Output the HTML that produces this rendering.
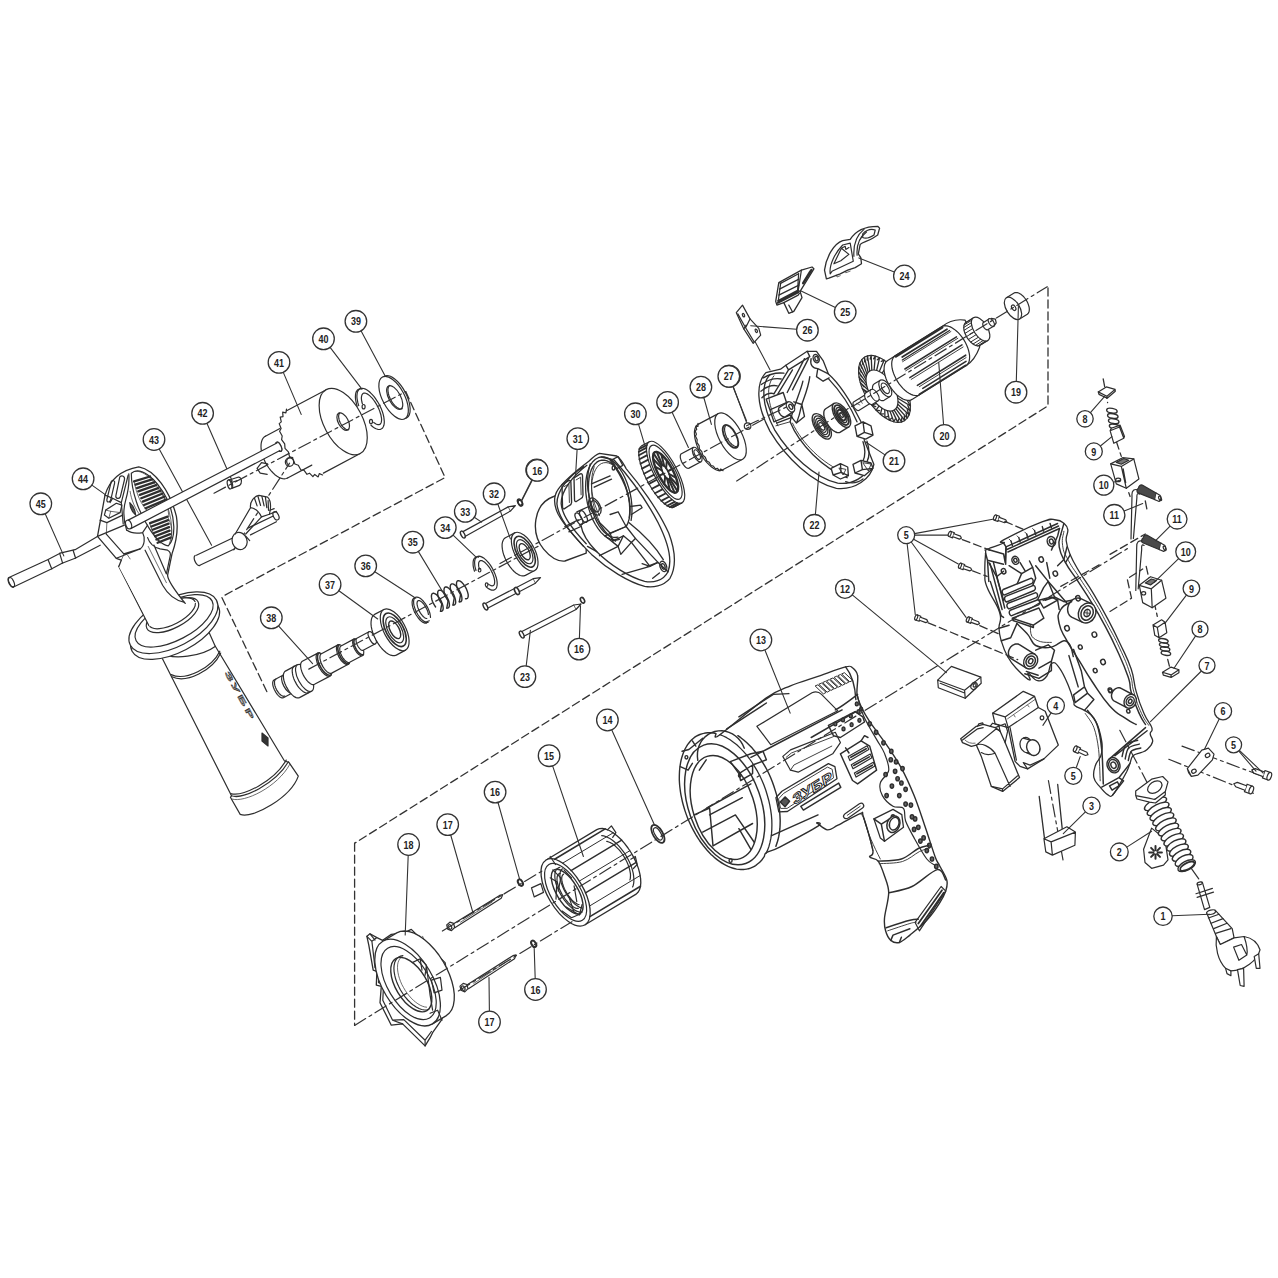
<!DOCTYPE html>
<html><head><meta charset="utf-8"><title>Exploded view</title>
<style>
html,body{margin:0;padding:0;background:#fff;}
body{width:1278px;height:1278px;overflow:hidden;}
svg{display:block;}
path,ellipse,circle,line,rect,polyline,polygon{fill:none;stroke:#2e2e2e;stroke-width:1.2;stroke-linecap:round;stroke-linejoin:round;}
.hv path,.hv ellipse{stroke-width:1.45;}
.hm path,.hm ellipse{stroke-width:1.35;}
.hv path.th,.hm path.th,.hv ellipse.th,.hm ellipse.th{stroke-width:0.9;}
.w{fill:#fff;}
.ld{stroke-width:1.1;stroke:#333;}
.ax{stroke-width:1.2;stroke-dasharray:13 4 3 4;stroke:#333;}
.ds{stroke-width:1.3;stroke-dasharray:8 4;stroke:#333;}
.lc{fill:#fff;stroke:#333;stroke-width:1.3;}
.lt{font-family:"Liberation Sans",sans-serif;font-weight:bold;font-size:11.5px;text-anchor:middle;fill:#222;stroke:none;}
.th{stroke-width:0.7;}
.bk{fill:#333;}
.g{fill:#999;}
</style></head><body>
<svg width="1278" height="1278" viewBox="0 0 1278 1278">
<path d="M 405.7 391.6 L 445.1 477.5 L 221.6 596.9" class="ds"/>
<ellipse cx="395.4" cy="397.1" rx="11.0" ry="23.7" transform="rotate(-28 395.4 397.1)" class="w"/>
<ellipse cx="393.6" cy="397.9" rx="11.0" ry="23.7" transform="rotate(-28 393.6 397.9)" class="w"/>
<ellipse cx="394.7" cy="397.5" rx="5.9" ry="13.1" transform="rotate(-28 394.7 397.5)"/>
<path d="M 402.2 408.7 L 401.5 408.9 L 400.6 409.0 L 399.7 408.8 L 398.8 408.5 L 397.7 407.9 L 396.7 407.2 L 395.6 406.3 L 394.6 405.3 L 393.6 404.1 L 392.6 402.8 L 391.6 401.3 L 390.8 399.8 L 390.0 398.3 L 389.4 396.7 L 388.8 395.2 L 388.4 393.7 L 388.1 392.2 L 388.0 390.8 L 387.9 389.5 L 388.1 388.4 L 388.3 387.4 L 388.7 386.6 L 389.2 385.9 L 389.8 385.4"/>
<path d="M 358.7 405.6 L 357.9 402.9 L 357.4 400.4 L 357.0 398.1 L 356.9 395.9 L 357.1 393.9 L 357.4 392.2 L 358.0 390.8 L 358.8 389.7 L 359.8 388.8 L 360.9 388.4 L 362.3 388.3 L 363.8 388.5 L 365.4 389.1 L 367.0 390.0 L 368.8 391.2 L 370.5 392.8 L 372.3 394.6 L 374.1 396.6 L 375.7 398.9 L 377.3 401.3 L 378.8 403.8 L 380.2 406.5 L 381.4 409.1 L 382.4 411.8 L 383.2 414.4 L 383.8 417.0 L 384.1 419.3 L 384.3 421.6 L 384.2 423.6 L 383.9 425.3 L 383.3 426.8 L 382.6 428.0 L 381.6 428.8 L 380.5 429.3 L 379.2 429.5 L 377.7 429.3 L 376.1 428.8 L 374.5 427.9 L 372.7 426.8 L 371.0 425.3"/>
<path d="M 362.4 403.8 L 361.9 402.0 L 361.6 400.3 L 361.4 398.8 L 361.4 397.4 L 361.6 396.1 L 361.9 395.1 L 362.3 394.3 L 362.9 393.6 L 363.6 393.2 L 364.5 393.1 L 365.4 393.2 L 366.4 393.5 L 367.5 394.1 L 368.7 394.9 L 369.9 395.9 L 371.1 397.1 L 372.4 398.4 L 373.6 400.0 L 374.8 401.6 L 375.9 403.4 L 377.0 405.3 L 378.0 407.2 L 378.9 409.1 L 379.7 411.1 L 380.3 413.0 L 380.9 414.8 L 381.2 416.6 L 381.5 418.2 L 381.6 419.7 L 381.5 421.0 L 381.3 422.2 L 380.9 423.1 L 380.4 423.9 L 379.7 424.4 L 379.0 424.6 L 378.1 424.7 L 377.1 424.4 L 376.0 424.0 L 374.9 423.3 L 373.7 422.5"/>
<path d="M 357.2 406.2 L 356.7 404.7 L 356.3 403.1 L 356.0 401.6 L 355.7 400.2 L 355.5 398.8 L 355.4 397.5 L 355.4 396.2 L 355.5 395.1 L 355.6 394.0 L 355.8 393.0 L 356.2 392.1 L 356.5 391.3 L 357.0 390.6 L 357.5 390.0 L 358.1 389.6 L 358.7 389.3 L 359.5 389.0 L 360.2 388.9 L 361.1 389.0 L 361.9 389.1"/>
<ellipse cx="363.6" cy="406.7" rx="1.5" ry="2.2" transform="rotate(0 363.6 406.7)"/>
<ellipse cx="371.0" cy="421.6" rx="1.5" ry="2.2" transform="rotate(0 371.0 421.6)"/>
<path d="M 326.3 389.7 L 286.6 410.8"/>
<path d="M 360.2 453.5 L 323.4 473.1"/>
<ellipse cx="343.2" cy="421.6" rx="19.3" ry="36.2" transform="rotate(-28 343.2 421.6)" class="w"/>
<ellipse cx="343.2" cy="421.6" rx="5.0" ry="9.6" transform="rotate(-28 343.2 421.6)"/>
<path d="M 348.7 429.7 L 348.0 429.8 L 347.4 429.7 L 346.7 429.5 L 345.9 429.2 L 345.2 428.8 L 344.5 428.2 L 343.7 427.6 L 343.0 426.9 L 342.3 426.1 L 341.7 425.2 L 341.1 424.3 L 340.5 423.3 L 340.0 422.3 L 339.6 421.3 L 339.3 420.3 L 339.0 419.2 L 338.8 418.2 L 338.7 417.3 L 338.6 416.4 L 338.7 415.5 L 338.8 414.8 L 339.1 414.1 L 339.4 413.5 L 339.7 413.0"/>
<path d="M 322.6 475.0 L 319.3 473.6 L 318.2 476.9 L 314.7 474.4 L 312.9 476.7 L 309.5 473.2 L 307.0 474.3 L 303.9 470.1 L 300.9 470.0 L 298.3 465.3 L 294.9 464.0 L 293.0 459.0 L 289.5 456.6 L 288.4 451.8 L 285.0 448.3 L 284.7 443.9 L 281.6 439.7 L 282.2 436.0 L 279.6 431.3 L 281.1 428.5 L 279.2 423.6 L 281.3 421.9 L 280.2 417.1 L 283.0 416.6 L 282.7 412.2 L 285.9 412.9 L 286.5 409.2"/>
<path d="M 287.6 478.0 L 286.1 478.5 L 284.4 478.8 L 282.6 478.6 L 280.7 478.1 L 278.7 477.2 L 276.7 475.9 L 274.6 474.4 L 272.7 472.5 L 270.7 470.4 L 268.9 468.0 L 267.2 465.5 L 265.6 462.9 L 264.3 460.1 L 263.1 457.2 L 262.2 454.4 L 261.5 451.6 L 261.1 448.9 L 261.0 446.4 L 261.1 444.0 L 261.5 441.9 L 262.1 440.0 L 262.9 438.4 L 264.1 437.1 L 265.4 436.2"/>
<path d="M 265.4 436.2 L 279.9 428.5"/>
<path d="M 287.6 478.0 L 311.8 465.1"/>
<ellipse cx="289.5" cy="462.1" rx="4.2" ry="4.2" transform="rotate(0 289.5 462.1)"/>
<path d="M 288.8 465.1 L 288.3 464.8 L 287.9 464.4 L 287.6 464.0 L 287.2 463.6 L 287.0 463.1 L 286.8 462.5 L 286.7 462.0 L 286.7 461.5 L 286.7 460.9 L 286.8 460.4 L 287.0 459.9 L 287.2 459.4 L 287.6 458.9 L 287.9 458.5 L 288.3 458.2 L 288.8 457.9 L 289.3 457.6 L 289.8 457.4 L 290.3 457.4 L 290.9 457.3 L 291.4 457.4 L 291.9 457.4 L 292.5 457.6 L 292.9 457.9"/>
<path d="M 257.1 468.3 L 261.5 462.6 L 267.6 463.9 M 257.1 468.3 L 260.2 473.1 L 267.2 474.4"/>
<ellipse cx="278.8" cy="446.8" rx="2.2" ry="5.0" transform="rotate(-25 278.8 446.8)" class="w"/>
<path d="M 230.0 479.7 L 238.7 477.0 C 242.2 477.9 242.2 483.6 239.6 485.4 L 231.7 488.4"/>
<ellipse cx="230.4" cy="484.0" rx="2.0" ry="4.6" transform="rotate(-15 230.4 484.0)" class="w"/>
<ellipse cx="229.5" cy="484.5" rx="2.0" ry="4.6" transform="rotate(-15 229.5 484.5)" class="w"/>
<path d="M 232.1 482.3 L 237.4 480.5"/>
<path d="M 233.7 549.8 L 289.5 463.2" class="ax"/>
<path d="M 196.4 555.2 L 233.2 537.7 M 199.3 565.5 L 234.8 548.7"/>
<path d="M 199.8 565.5 L 199.5 565.6 L 199.1 565.6 L 198.8 565.5 L 198.3 565.4 L 197.9 565.1 L 197.5 564.8 L 197.0 564.4 L 196.6 563.9 L 196.2 563.4 L 195.8 562.9 L 195.5 562.3 L 195.1 561.6 L 194.9 561.0 L 194.6 560.3 L 194.4 559.6 L 194.3 559.0 L 194.2 558.4 L 194.2 557.8 L 194.2 557.2 L 194.3 556.8 L 194.5 556.3 L 194.7 556.0 L 194.9 555.7 L 195.2 555.5"/>
<ellipse cx="239.6" cy="541.0" rx="7.4" ry="8.8" transform="rotate(-20 239.6 541.0)" class="w"/>
<path d="M 245.7 536.2 L 249.7 540.6"/>
<path d="M 248.4 527.9 L 273.8 515.8 M 250.5 534.9 L 276.4 521.7"/>
<ellipse cx="276.0" cy="515.8" rx="2.6" ry="4.4" transform="rotate(-25 276.0 515.8)" class="w"/>
<path d="M 235.2 534.0 L 250.5 507.7 M 245.7 534.0 L 261.5 516.9"/>
<path d="M 250.5 507.7 C 249.7 501.6 254.1 496.1 258.9 495.4 L 267.6 497.2 C 270.9 500.5 270.9 508.1 269.4 514.3 L 261.5 516.9 C 258.9 511.4 254.5 508.1 250.5 507.7 Z" class="w"/>
<path d="M 254.5 498.3 L 257.1 505.9 M 258.0 496.5 L 260.6 505.5 M 261.9 496.3 L 264.1 505.9 M 265.4 497.2 L 266.8 507.7 M 268.1 500.5 L 268.5 510.3"/>
<path d="M 269.8 510.3 L 274.2 508.6 M 269.4 514.3 L 276.4 511.4"/>
<path d="M 214.0 493.2 L 405.7 391.6" class="ax"/>
<path d="M361.0 330.8 L384.9 375.6" class="ld"/>
<path d="M330.1 347.4 L360.8 387.6" class="ld"/>
<path d="M283.3 372.4 L301.2 414.4" class="ld"/>
<path d="M206.9 423.2 L232.1 480.8" class="ld"/>
<ellipse cx="278.8" cy="446.8" rx="2.2" ry="5.0" transform="rotate(-25 278.8 446.8)" class="w"/>
<path d="M 9.5 577.2 L 47.6 559.7 L 60.1 553.2 L 75.1 549.7 L 97.4 536.4 M 13.0 587.2 L 51.3 569.0 L 62.1 563.2 L 75.1 558.2 L 100.2 545.2"/>
<path d="M 13.5 587.0 L 13.2 587.1 L 12.8 587.1 L 12.4 587.0 L 12.1 586.9 L 11.6 586.7 L 11.2 586.3 L 10.8 586.0 L 10.4 585.5 L 10.0 585.0 L 9.6 584.5 L 9.3 583.9 L 9.0 583.3 L 8.7 582.6 L 8.5 582.0 L 8.3 581.4 L 8.2 580.7 L 8.1 580.2 L 8.1 579.6 L 8.1 579.1 L 8.2 578.6 L 8.3 578.2 L 8.5 577.9 L 8.8 577.6 L 9.0 577.5"/>
<ellipse cx="11.5" cy="582.2" rx="2.3" ry="5.0" transform="rotate(-25 11.5 582.2)"/>
<path d="M 48.1 559.7 L 51.8 569.0 M 59.6 553.2 L 62.6 563.2 M 73.1 550.2 L 75.6 558.2"/>
<path d="M91.9 485.1 L110.2 498.1" class="ld"/>
<path d="M45.2 513.7 L63.8 555.9" class="ld"/>
<path d="M159.2 449.0 L211.6 545.2" class="ld"/>
<path d="M 149.3 632.6 L 159.2 652.3 L 231.5 795.8 L 230.4 797.3 L 240.2 814.4 C 253.4 819.2 291.0 796.9 298.3 776.1 L 288.9 762.3 L 284.5 761.0 L 215.0 645.7 L 205.2 623.8 Z" class="w"/>
<path d="M 159.6 651.9 C 172.3 661.5 203.0 655.6 215.5 646.2"/>
<path d="M 171.2 674.6 C 185.4 681.2 211.7 668.1 219.8 651.2 M 171.9 676.8 C 186.5 683.8 212.8 670.3 220.7 653.0"/>
<path d="M 231.5 795.8 C 242.4 799.7 275.3 784.2 288.4 761.8 M 230.8 793.6 C 242.4 796.9 274.2 781.6 286.2 760.1"/>
<path d="M 232.1 799.1 C 244.6 803.0 277.5 787.0 289.7 764.5" class="th"/>
<text transform="translate(224.5 673) rotate(61.5) scale(1 0.42)" style="font-family:'Liberation Sans',sans-serif;font-weight:bold;font-size:17px;fill:#999;stroke:#333;stroke-width:1.1;letter-spacing:3px">ЗУБР</text>
<path d="M262 733 L268 738 L268 746 L262 741 Z" style="fill:#333"/>
<ellipse cx="175.1" cy="628.6" rx="48.6" ry="23.7" transform="rotate(-27.7 175.1 628.6)" class="w"/>
<ellipse cx="173.4" cy="622.7" rx="48.6" ry="23.7" transform="rotate(-27.7 173.4 622.7)" class="w"/>
<ellipse cx="174.1" cy="620.8" rx="42.9" ry="19.3" transform="rotate(-27.7 174.1 620.8)"/>
<ellipse cx="172.5" cy="615.1" rx="28.9" ry="12.7" transform="rotate(-27.7 172.5 615.1)" class="w"/>
<ellipse cx="171.9" cy="613.3" rx="25.9" ry="11.0" transform="rotate(-27.7 171.9 613.3)" class="w"/>
<path d="M 118.8 566.4 L 145.0 550.0 L 162.6 585.2 L 184.0 602.0 L 197.0 602.0 L 149.0 626.5 Z" class="w" style="stroke:none"/>
<path d="M 118.8 566.4 L 148.8 625.5"/>
<path d="M 138.8 466.9 C 155.1 470.0 170.1 491.3 176.4 516.4 C 178.9 531.4 175.1 545.1 172.0 553.9 L 167.6 575.2 C 167.6 580.2 172.6 587.7 185.2 603.4 L 150.1 625.3 L 118.8 566.4 L 121.3 560.2 L 116.3 558.3 L 97.5 536.4 L 105.0 495.1 C 110.0 478.8 121.3 470.0 138.8 466.9 Z" class="w" style="stroke:none"/>
<path d="M 118.8 566.4 L 121.3 560.2 L 116.3 558.3 L 97.5 536.4 L 105.0 495.1 C 110.0 478.8 121.3 470.0 138.8 466.9 C 155.1 470.0 170.1 491.3 176.4 516.4 C 178.9 531.4 175.1 545.1 172.0 553.9 L 167.6 575.2 C 167.6 580.2 172.6 587.7 185.2 603.4" style="stroke-width:1.3;"/>
<path d="M 131.3 473.2 C 138.8 466.3 155.1 475.0 167.6 500.1 C 175.1 517.6 176.4 537.6 168.3 545.8 C 161.4 545.1 155.1 537.6 149.5 528.9 C 138.8 512.6 131.3 491.3 131.3 473.2 Z" class="w"/>
<path d="M 135.1 471.3 C 145.1 470.0 156.4 482.6 165.1 500.1 C 172.6 517.6 173.3 535.1 169.5 543.3" class="th"/>
<path d="M 134.1 481.3 L 150.1 476.5" style="stroke-width:2.3;"/>
<path d="M 135.5 484.7 L 152.1 479.4" style="stroke-width:2.3;"/>
<path d="M 137.0 488.1 L 154.1 482.3" style="stroke-width:2.3;"/>
<path d="M 138.3 491.4 L 156.1 485.2" style="stroke-width:2.3;"/>
<path d="M 139.8 494.8 L 158.1 488.1" style="stroke-width:2.3;"/>
<path d="M 141.2 498.2 L 160.1 490.9" style="stroke-width:2.3;"/>
<path d="M 142.7 501.6 L 162.1 493.8" style="stroke-width:2.3;"/>
<path d="M 144.1 505.0 L 164.1 496.7" style="stroke-width:2.3;"/>
<path d="M 145.6 508.3 L 166.1 499.6" style="stroke-width:2.3;"/>
<path d="M 150.1 523.2 L 167.6 516.6" style="stroke-width:2.3;"/>
<path d="M 151.4 526.5 L 168.1 520.1" style="stroke-width:2.3;"/>
<path d="M 152.6 529.7 L 168.6 523.6" style="stroke-width:2.3;"/>
<path d="M 153.9 533.0 L 169.1 527.1" style="stroke-width:2.3;"/>
<path d="M 155.1 536.3 L 169.6 530.6" style="stroke-width:2.3;"/>
<path d="M 156.4 539.5 L 170.1 534.1" style="stroke-width:2.3;"/>
<path d="M 157.6 542.8 L 170.6 537.6" style="stroke-width:2.3;"/>
<path d="M 150.1 476.5 C 160.1 485.1 167.6 500.1 168.9 516.4 M 167.6 517.0 C 172.6 525.1 172.6 535.1 170.4 539.1" class="th"/>
<path d="M 134.1 481.3 C 136.3 493.8 141.3 505.1 147.0 510.1 M 149.6 523.2 C 152.6 532.6 156.4 540.1 160.1 543.3" class="th"/>
<path d="M 111.3 481.3 C 112.8 479.8 115.3 480.5 114.6 483.2 L 110.7 500.1 C 109.5 502.6 106.5 502.8 106.9 499.5 Z"/>
<path d="M 119.8 476.9 C 121.9 475.0 125.3 476.0 124.4 480.0 L 120.3 496.9 C 118.8 499.5 115.3 498.6 115.9 495.7 Z"/>
<path d="M 105.7 510.1 L 116.3 503.2 L 121.9 505.1 L 120.1 512.6 L 108.8 518.2 L 104.4 515.1 Z"/>
<path d="M 108.8 518.2 L 110.7 511.3 L 120.1 512.6 M 110.7 511.3 L 105.7 510.1" class="th"/>
<path d="M 105.0 495.1 L 112.6 498.2 L 121.3 502.6 L 128.2 475.0 M 112.6 498.2 L 110.0 502.6 M 121.3 502.6 L 123.2 523.9"/>
<path d="M 128.8 473.8 C 129.5 482.6 128.2 491.3 125.7 500.1 C 123.2 508.8 122.6 517.6 126.6 530.1"/>
<path d="M 129.8 502.6 C 132.6 505.1 135.1 510.1 135.7 515.1 C 132.6 512.6 130.1 507.6 129.8 502.6 Z" style="fill:#555;"/>
<path d="M 130.1 491.3 C 131.3 500.1 135.1 508.8 140.1 515.1" class="th"/>
<path d="M 97.5 536.4 L 124.4 525.1 M 106.3 534.1 L 123.8 553.9 L 140.1 548.9 M 116.3 558.3 L 138.8 549.5 M 100.0 520.1 L 106.9 522.6 L 122.6 515.1"/>
<path d="M 106.9 522.6 L 106.3 534.1" class="th"/>
<path d="M 128.2 520.1 L 276.9 443.0 L 279.9 450.5 L 130.7 528.6 Z" class="w" style="stroke:none"/>
<path d="M 128.2 520.1 L 276.9 443.0 M 130.7 528.6 L 279.9 450.5"/>
<ellipse cx="128.6" cy="524.5" rx="2.8" ry="4.5" transform="rotate(-20 128.6 524.5)" class="w"/>
<path d="M 126.6 530.1 C 130.1 532.6 136.3 533.9 142.6 532.6 L 147.6 525.1 M 142.6 532.6 C 145.1 537.6 145.1 545.1 140.1 548.9 L 138.8 549.5"/>
<path d="M 147.6 537.6 C 150.1 545.1 155.1 547.7 160.1 548.9 L 167.6 550.2 C 170.1 551.4 170.8 553.9 170.1 556.4 L 166.4 573.9 L 153.9 545.1"/>
<path d="M 145.1 550.2 L 162.6 585.2 C 167.6 594.0 175.1 600.2 183.9 602.1"/>
<path d="M 148.2 546.4 L 166.4 582.7" class="th"/>
<path d="M 123.8 554.5 L 121.3 560.2 M 127.6 555.2 L 130.1 558.9" class="th"/>
<path d="M 222.0 597.7 L 268.0 694.1" class="ds"/>
<path d="M 282.9 675.3 L 274.0 680.0 L 273.5 680.4 L 273.1 681.1 L 272.8 681.9 L 272.7 682.9 L 272.7 684.0 L 272.9 685.3 L 273.2 686.6 L 273.7 688.0 L 274.3 689.4 L 275.0 690.8 L 275.7 692.2 L 276.6 693.5 L 277.5 694.6 L 278.4 695.6 L 279.4 696.5 L 280.3 697.2 L 281.2 697.6 L 282.0 697.9 L 282.8 697.9 L 283.4 697.7 L 292.3 693.0 Z" class="w"/>
<ellipse cx="287.6" cy="684.1" rx="4.3" ry="10.0" transform="rotate(-28 287.6 684.1)" class="w"/>
<path d="M 284.8 696.1 L 284.2 696.2 L 283.6 696.3 L 283.0 696.2 L 282.3 695.9 L 281.5 695.5 L 280.8 695.0 L 280.0 694.3 L 279.3 693.6 L 278.5 692.7 L 277.8 691.7 L 277.1 690.7 L 276.5 689.6 L 276.0 688.5 L 275.5 687.4 L 275.1 686.3 L 274.8 685.2 L 274.6 684.1 L 274.5 683.1 L 274.5 682.2 L 274.5 681.4 L 274.7 680.7 L 275.0 680.1 L 275.4 679.6 L 275.8 679.2"/>
<path d="M 297.5 664.6 L 285.4 671.1 L 284.6 671.7 L 284.0 672.7 L 283.5 673.9 L 283.4 675.4 L 283.4 677.1 L 283.6 679.0 L 284.1 681.0 L 284.8 683.2 L 285.7 685.3 L 286.7 687.4 L 287.9 689.4 L 289.1 691.3 L 290.5 693.1 L 291.9 694.6 L 293.3 695.9 L 294.7 696.9 L 296.1 697.6 L 297.3 697.9 L 298.5 697.9 L 299.5 697.6 L 311.6 691.1 Z" class="w"/>
<ellipse cx="304.6" cy="677.9" rx="6.5" ry="15.0" transform="rotate(-28 304.6 677.9)" class="w"/>
<path d="M 308.4 692.6 L 307.6 692.9 L 306.7 693.0 L 305.6 692.8 L 304.6 692.4 L 303.4 691.8 L 302.3 690.9 L 301.1 689.9 L 299.9 688.7 L 298.7 687.3 L 297.6 685.8 L 296.5 684.1 L 295.6 682.4 L 294.7 680.7 L 293.9 678.9 L 293.3 677.1 L 292.8 675.4 L 292.5 673.7 L 292.3 672.2 L 292.2 670.7 L 292.3 669.4 L 292.6 668.3 L 293.0 667.4 L 293.6 666.6 L 294.3 666.1"/>
<path d="M 317.8 653.1 L 302.3 661.3 L 301.6 661.9 L 301.1 662.7 L 300.7 663.7 L 300.6 665.1 L 300.6 666.5 L 300.9 668.2 L 301.3 669.9 L 301.9 671.7 L 302.6 673.6 L 303.5 675.4 L 304.5 677.2 L 305.7 678.8 L 306.8 680.4 L 308.0 681.7 L 309.3 682.8 L 310.5 683.7 L 311.6 684.3 L 312.7 684.6 L 313.7 684.6 L 314.5 684.3 L 330.0 676.1 Z" class="w"/>
<ellipse cx="323.9" cy="664.6" rx="5.5" ry="13.0" transform="rotate(-28 323.9 664.6)" class="w"/>
<path d="M 338.0 644.9 L 321.4 653.7 L 320.8 654.1 L 320.3 654.8 L 320.1 655.7 L 319.9 656.8 L 319.9 658.1 L 320.1 659.5 L 320.5 661.0 L 321.0 662.5 L 321.6 664.1 L 322.4 665.6 L 323.2 667.1 L 324.2 668.5 L 325.2 669.8 L 326.2 670.9 L 327.2 671.9 L 328.3 672.6 L 329.3 673.1 L 330.2 673.3 L 331.0 673.4 L 331.7 673.1 L 348.3 664.3 Z" class="w"/>
<ellipse cx="343.1" cy="654.6" rx="4.8" ry="11.0" transform="rotate(-28 343.1 654.6)" class="w"/>
<path d="M 331.0 674.9 L 330.3 675.1 L 329.5 675.2 L 328.7 675.0 L 327.8 674.7 L 326.8 674.2 L 325.8 673.5 L 324.8 672.6 L 323.8 671.6 L 322.9 670.5 L 321.9 669.2 L 321.1 667.9 L 320.3 666.4 L 319.5 665.0 L 318.9 663.5 L 318.4 662.0 L 318.0 660.6 L 317.7 659.2 L 317.5 657.9 L 317.5 656.7 L 317.6 655.6 L 317.8 654.6 L 318.2 653.8 L 318.7 653.2 L 319.2 652.8" style="stroke-width:1.6;"/>
<path d="M 353.8 639.1 L 341.0 646.0 L 340.5 646.3 L 340.1 646.9 L 339.9 647.7 L 339.7 648.6 L 339.8 649.7 L 339.9 650.9 L 340.2 652.1 L 340.6 653.4 L 341.2 654.7 L 341.8 656.0 L 342.5 657.3 L 343.3 658.5 L 344.2 659.5 L 345.0 660.5 L 345.9 661.2 L 346.8 661.9 L 347.6 662.3 L 348.4 662.5 L 349.1 662.5 L 349.7 662.3 L 362.5 655.5 Z" class="w"/>
<ellipse cx="358.2" cy="647.3" rx="4.0" ry="9.3" transform="rotate(-28 358.2 647.3)" class="w"/>
<path d="M 349.1 663.4 L 348.5 663.6 L 347.9 663.6 L 347.2 663.5 L 346.4 663.2 L 345.6 662.7 L 344.8 662.1 L 344.0 661.4 L 343.2 660.6 L 342.4 659.6 L 341.6 658.5 L 340.8 657.4 L 340.2 656.2 L 339.6 655.0 L 339.0 653.7 L 338.6 652.5 L 338.2 651.3 L 338.0 650.1 L 337.8 649.0 L 337.8 648.0 L 337.9 647.1 L 338.1 646.3 L 338.3 645.7 L 338.7 645.1 L 339.2 644.8" style="stroke-width:1.6;"/>
<path d="M 369.0 631.8 L 356.9 638.3 L 356.5 638.6 L 356.3 639.0 L 356.1 639.5 L 356.0 640.2 L 356.1 641.0 L 356.2 641.8 L 356.4 642.7 L 356.7 643.7 L 357.1 644.6 L 357.6 645.6 L 358.1 646.5 L 358.7 647.3 L 359.3 648.1 L 359.9 648.8 L 360.5 649.4 L 361.2 649.9 L 361.7 650.2 L 362.3 650.4 L 362.8 650.4 L 363.2 650.3 L 375.4 643.8 Z" class="w"/>
<ellipse cx="372.2" cy="637.8" rx="2.8" ry="6.8" transform="rotate(-28 372.2 637.8)" class="w"/>
<path d="M 363.3 654.6 L 362.8 654.7 L 362.3 654.8 L 361.7 654.6 L 361.1 654.4 L 360.4 654.0 L 359.7 653.5 L 359.0 652.9 L 358.3 652.2 L 357.7 651.4 L 357.0 650.5 L 356.4 649.6 L 355.9 648.6 L 355.3 647.5 L 354.9 646.5 L 354.5 645.5 L 354.2 644.5 L 354.0 643.5 L 353.9 642.6 L 353.9 641.8 L 353.9 641.0 L 354.1 640.3 L 354.3 639.8 L 354.7 639.4 L 355.1 639.1" style="stroke-width:1.6;"/>
<path d="M 383.9 609.5 L 374.6 614.4 L 373.3 615.4 L 372.2 617.0 L 371.5 618.9 L 371.1 621.3 L 371.0 623.9 L 371.3 626.9 L 372.0 630.0 L 373.0 633.3 L 374.3 636.6 L 375.9 639.8 L 377.7 642.9 L 379.7 645.8 L 381.8 648.5 L 384.1 650.8 L 386.3 652.7 L 388.6 654.2 L 390.7 655.2 L 392.8 655.6 L 394.6 655.6 L 396.3 655.1 L 405.5 650.1 Z" class="w"/>
<ellipse cx="394.7" cy="629.8" rx="10.8" ry="23.0" transform="rotate(-28 394.7 629.8)" class="w"/>
<ellipse cx="394.7" cy="629.8" rx="8.7" ry="18.4" transform="rotate(-28 394.7 629.8)" style="stroke-width:1.6;"/>
<ellipse cx="394.7" cy="629.8" rx="6.7" ry="14.3" transform="rotate(-28 394.7 629.8)"/>
<ellipse cx="394.7" cy="629.8" rx="4.5" ry="9.7" transform="rotate(-28 394.7 629.8)" style="stroke-width:1.4;"/>
<path d="M 428.1 622.3 L 427.0 622.5 L 425.6 622.1 L 424.1 621.4 L 422.6 620.3 L 421.1 618.8 L 419.6 617.0 L 418.1 615.0 L 416.8 612.8 L 415.7 610.5 L 414.8 608.2 L 414.1 605.9 L 413.7 603.8 L 413.6 601.8 L 413.7 600.2 L 414.2 598.8 L 414.8 597.8 L 415.8 597.2 L 416.9 597.1 L 418.2 597.3 L 419.7 598.0 L 421.2 599.1 L 422.7 600.5 L 424.2 602.3 L 425.7 604.2 L 427.0 606.4 L 428.2 608.7 L 429.1 611.0 L 429.9 613.3 L 430.3 615.5 L 430.5 617.4"/>
<path d="M 426.8 618.5 L 426.1 618.4 L 425.1 618.0 L 424.2 617.4 L 423.2 616.5 L 422.2 615.4 L 421.2 614.1 L 420.2 612.6 L 419.3 611.1 L 418.6 609.5 L 418.0 607.9 L 417.5 606.4 L 417.2 604.9 L 417.0 603.6 L 417.1 602.5 L 417.3 601.6 L 417.7 601.0 L 418.2 600.6 L 418.9 600.5 L 419.7 600.7 L 420.7 601.2 L 421.6 601.9 L 422.6 602.9 L 423.7 604.0 L 424.7 605.4 L 425.6 606.9 L 426.4 608.4 L 427.2 610.0 L 427.8 611.6 L 428.2 613.1 L 428.4 614.5"/>
<path d="M 426.6 623.1 L 424.8 623.1 L 422.7 622.2 L 420.5 620.5 L 418.3 618.0 L 416.2 615.0 L 414.4 611.7 L 413.1 608.3 L 412.3 605.1 L 412.1 602.2 L 412.5 599.9 L 413.5 598.4 L 415.0 597.8"/>
<path d="M 425.3 622.3 L 429.3 620.8"/>
<path d="M 435.6 607.0 L 434.4 605.2 L 433.3 603.2 L 432.4 601.2 L 431.8 599.2 L 431.5 597.4 L 431.4 595.8 L 431.7 594.5 L 432.2 593.7 L 433.0 593.3 L 434.0 593.3 L 435.2 593.8 L 436.5 594.7 L 437.8 596.0 L 439.1 597.6 L 440.3 599.4 L 441.3 601.4 L 442.2 603.5 L 442.8 605.4 L 443.1 607.2 L 443.2 608.8 L 442.9 610.0 L 442.3 610.9 L 441.5 611.3 L 440.5 611.2" style="stroke-width:1.4;"/>
<path d="M 440.5 611.2 L 441.8 603.9" style="stroke-width:1.4;"/>
<path d="M 441.8 603.9 L 440.6 602.1 L 439.5 600.1 L 438.7 598.1 L 438.1 596.1 L 437.7 594.3 L 437.7 592.7 L 437.9 591.4 L 438.5 590.6 L 439.3 590.1 L 440.3 590.2 L 441.4 590.6 L 442.7 591.5 L 444.1 592.8 L 445.4 594.4 L 446.6 596.3 L 447.6 598.3 L 448.5 600.3 L 449.1 602.3 L 449.4 604.1 L 449.4 605.7 L 449.1 606.9 L 448.6 607.7 L 447.8 608.1 L 446.8 608.1" style="stroke-width:1.4;"/>
<path d="M 446.8 608.1 L 448.1 600.8" style="stroke-width:1.4;"/>
<path d="M 448.1 600.8 L 446.9 598.9 L 445.8 597.0 L 445.0 594.9 L 444.3 593.0 L 444.0 591.1 L 444.0 589.5 L 444.2 588.3 L 444.7 587.4 L 445.5 587.0 L 446.5 587.0 L 447.7 587.5 L 449.0 588.4 L 450.3 589.7 L 451.6 591.3 L 452.8 593.2 L 453.9 595.1 L 454.7 597.2 L 455.3 599.1 L 455.6 601.0 L 455.7 602.5 L 455.4 603.8 L 454.8 604.6 L 454.0 605.0 L 453.0 605.0" style="stroke-width:1.4;"/>
<path d="M 453.0 605.0 L 454.3 597.6" style="stroke-width:1.4;"/>
<path d="M 454.3 597.6 L 453.1 595.8 L 452.1 593.8 L 451.2 591.8 L 450.6 589.8 L 450.3 588.0 L 450.2 586.4 L 450.5 585.2 L 451.0 584.3 L 451.8 583.9 L 452.8 583.9 L 454.0 584.4 L 455.2 585.3 L 456.6 586.6 L 457.9 588.2 L 459.1 590.0 L 460.1 592.0 L 461.0 594.1 L 461.6 596.0 L 461.9 597.8 L 461.9 599.4 L 461.7 600.6 L 461.1 601.5 L 460.3 601.9 L 459.3 601.8" style="stroke-width:1.4;"/>
<path d="M 459.3 601.8 L 460.6 594.5" style="stroke-width:1.4;"/>
<path d="M 460.6 594.5 L 459.4 592.7 L 458.3 590.7 L 457.5 588.7 L 456.8 586.7 L 456.5 584.9 L 456.5 583.3 L 456.7 582.0 L 457.2 581.2 L 458.1 580.7 L 459.1 580.8 L 460.2 581.2 L 461.5 582.1 L 462.8 583.4 L 464.1 585.1 L 465.3 586.9 L 466.4 588.9 L 467.2 590.9 L 467.8 592.9 L 468.2 594.7 L 468.2 596.3 L 467.9 597.5 L 467.4 598.3 L 466.6 598.7 L 465.5 598.7" style="stroke-width:1.4;"/>
<path d="M 476.0 570.5 L 475.4 568.3 L 474.9 566.3 L 474.7 564.3 L 474.6 562.5 L 474.7 560.9 L 475.0 559.5 L 475.5 558.3 L 476.1 557.4 L 476.9 556.7 L 477.9 556.3 L 479.0 556.2 L 480.2 556.4 L 481.6 556.9 L 482.9 557.6 L 484.4 558.6 L 485.9 559.9 L 487.3 561.4 L 488.8 563.0 L 490.2 564.9 L 491.5 566.9 L 492.7 569.0 L 493.8 571.2 L 494.8 573.4 L 495.6 575.6 L 496.3 577.7 L 496.8 579.8 L 497.1 581.8 L 497.2 583.6 L 497.1 585.3 L 496.8 586.7 L 496.4 588.0 L 495.7 588.9 L 494.9 589.6 L 494.0 590.1 L 492.9 590.2 L 491.7 590.1 L 490.4 589.6 L 489.0 588.9 L 487.6 588.0 L 486.1 586.8"/>
<path d="M 479.3 569.2 L 479.0 567.7 L 478.7 566.4 L 478.6 565.1 L 478.6 564.0 L 478.7 563.0 L 478.9 562.2 L 479.3 561.5 L 479.8 561.0 L 480.3 560.7 L 481.0 560.6 L 481.7 560.7 L 482.6 560.9 L 483.4 561.4 L 484.4 562.0 L 485.3 562.8 L 486.3 563.8 L 487.3 564.8 L 488.3 566.1 L 489.3 567.4 L 490.2 568.8 L 491.0 570.3 L 491.8 571.9 L 492.6 573.4 L 493.2 575.0 L 493.7 576.5 L 494.1 577.9 L 494.4 579.3 L 494.6 580.6 L 494.7 581.8 L 494.6 582.9 L 494.5 583.8 L 494.2 584.6 L 493.7 585.2 L 493.2 585.6 L 492.6 585.8 L 491.9 585.8 L 491.1 585.7 L 490.3 585.3 L 489.3 584.8 L 488.4 584.1"/>
<path d="M 474.5 571.2 L 474.0 569.6 L 473.6 568.1 L 473.3 566.6 L 473.1 565.1 L 473.1 563.8 L 473.1 562.5 L 473.2 561.4 L 473.4 560.3 L 473.7 559.4 L 474.2 558.7 L 474.7 558.0 L 475.3 557.5 L 476.0 557.2 L 476.8 557.0 L 477.6 557.0 L 478.5 557.1"/>
<ellipse cx="479.6" cy="570.2" rx="1.3" ry="1.8" transform="rotate(0 479.6 570.2)"/>
<ellipse cx="486.6" cy="584.7" rx="1.3" ry="1.8" transform="rotate(0 486.6 584.7)"/>
<path d="M 514.7 532.9 L 505.4 537.8 L 504.1 538.8 L 503.2 540.2 L 502.5 542.0 L 502.1 544.2 L 502.1 546.6 L 502.4 549.4 L 503.0 552.3 L 503.9 555.3 L 505.1 558.3 L 506.6 561.3 L 508.2 564.2 L 510.1 566.9 L 512.1 569.3 L 514.1 571.5 L 516.2 573.2 L 518.3 574.6 L 520.3 575.5 L 522.2 575.9 L 523.9 575.9 L 525.4 575.4 L 534.7 570.5 Z" class="w"/>
<ellipse cx="524.7" cy="551.7" rx="10.0" ry="21.3" transform="rotate(-28 524.7 551.7)" class="w"/>
<ellipse cx="524.7" cy="551.7" rx="8.0" ry="17.0" transform="rotate(-28 524.7 551.7)" style="stroke-width:1.6;"/>
<ellipse cx="524.7" cy="551.7" rx="6.2" ry="13.2" transform="rotate(-28 524.7 551.7)"/>
<ellipse cx="524.7" cy="551.7" rx="4.2" ry="8.9" transform="rotate(-28 524.7 551.7)" style="stroke-width:1.4;"/>
<path d="M 464.1 536.9 L 510.4 511.1 L 515.4 505.6 L 508.2 506.9 L 461.6 532.4" class="w"/>
<path d="M 510.4 511.1 L 508.2 506.9" class="th"/>
<ellipse cx="462.8" cy="534.6" rx="1.8" ry="3.8" transform="rotate(-28 462.8 534.6)" class="w" style="stroke-width:1.4;"/>
<ellipse cx="519.9" cy="502.1" rx="2.0" ry="3.3" transform="rotate(-28 519.9 502.1)" style="stroke-width:1.6;"/>
<path d="M 486.6 608.8 L 535.4 583.2 L 540.5 577.7 L 533.2 578.7 L 484.1 604.3" class="w"/>
<path d="M 535.4 583.2 L 533.2 578.7" class="th"/>
<ellipse cx="485.4" cy="606.5" rx="1.8" ry="3.8" transform="rotate(-28 485.4 606.5)" class="w" style="stroke-width:1.4;"/>
<ellipse cx="516.9" cy="591.0" rx="2.0" ry="3.8" transform="rotate(-28 516.9 591.0)" class="w" style="stroke-width:1.6;"/>
<path d="M 522.9 636.8 L 576.0 609.5 L 581.0 604.0 L 573.8 605.0 L 520.4 632.3" class="w"/>
<path d="M 576.0 609.5 L 573.8 605.0" class="th"/>
<ellipse cx="521.7" cy="634.6" rx="1.8" ry="3.8" transform="rotate(-28 521.7 634.6)" class="w" style="stroke-width:1.4;"/>
<ellipse cx="582.5" cy="600.3" rx="1.8" ry="3.0" transform="rotate(-28 582.5 600.3)" style="stroke-width:1.6;"/>
<path d="M 308.8 669.1 L 573.0 527.6" class="ax"/>
<path d="M278.5 625.8 L312.6 663.6" class="ld"/>
<path d="M338.9 590.8 L377.7 619.0" class="ld"/>
<path d="M374.8 571.8 L415.8 598.2" class="ld"/>
<path d="M418.3 551.4 L447.8 600.3" class="ld"/>
<path d="M453.1 535.1 L476.6 557.7" class="ld"/>
<path d="M474.3 517.3 L481.6 522.1" class="ld"/>
<path d="M497.8 504.0 L510.4 538.9" class="ld"/>
<path d="M531.9 479.7 L521.7 500.1" class="ld"/>
<path d="M526.2 665.9 L530.4 630.3" class="ld"/>
<g class="hm">
<path d="M 553.6 496.5 C 533.0 503.8 530.3 533.1 543.6 549.1 C 550.3 557.1 558.3 561.7 564.9 561.0 L 586.2 553.1 L 586.2 483.9 Z" class="w"/>
<path d="M 599.5 453.3 L 616.8 456.0 C 622.1 460.0 623.4 463.9 626.1 468.6 C 638.1 482.6 658.0 509.2 668.7 533.1 C 675.3 550.4 676.6 566.4 670.0 578.3 C 663.3 586.3 652.7 587.7 644.7 586.3 C 628.8 582.3 607.5 569.0 591.5 554.4 C 578.2 541.1 564.9 526.5 558.3 514.5 C 552.9 503.8 553.6 495.9 558.3 489.2 C 564.9 479.9 578.2 469.3 588.8 461.3 C 592.8 457.3 595.5 454.6 599.5 453.3 Z" class="w" style="stroke-width:1.3;"/>
<path d="M 601.5 457.0 L 614.1 460.0 C 626.1 473.3 644.7 497.2 658.0 522.5 C 668.7 543.8 672.7 559.7 668.0 571.7 C 663.3 581.0 652.7 583.0 644.7 581.3 C 630.1 577.7 610.1 565.0 596.8 551.7 C 587.5 542.4 582.2 533.1 580.9 525.1"/>
<path d="M 583.5 466.6 C 568.9 475.9 556.9 490.5 556.9 503.8 C 558.3 517.2 568.9 530.5 583.5 546.4 M 586.9 465.3 C 572.9 475.9 560.9 490.5 561.2 503.8 C 562.2 515.8 571.6 527.8 586.2 543.8"/>
<path d="M 590.2 463.9 C 584.9 479.9 587.5 499.9 596.8 518.5 C 602.2 529.1 607.5 535.8 615.5 541.1 M 610.1 460.0 C 620.8 474.6 630.1 493.2 630.1 509.2 C 630.1 517.2 628.8 522.5 626.1 526.5 L 604.8 535.8"/>
<path d="M 594.2 466.6 C 588.8 482.6 591.5 499.9 599.5 515.8" class="th"/>
<path d="M 619.4 539.4 L 616.5 540.1 L 613.5 540.0 L 610.3 539.2 L 607.2 537.7 L 604.0 535.3 L 601.0 532.4 L 598.1 528.7 L 595.4 524.5 L 592.9 519.9 L 590.8 514.8 L 589.0 509.4 L 587.5 503.9 L 586.5 498.2 L 585.8 492.6 L 585.6 487.0 L 585.8 481.7 L 586.5 476.6 L 587.5 472.0 L 589.0 467.9 L 590.8 464.3 L 593.0 461.4 L 595.4 459.2 L 598.2 457.7 L 601.1 457.0 L 604.1 457.0 L 607.3 457.8 L 610.4 459.4 L 613.6 461.7 L 616.6 464.7 L 619.5 468.3 L 622.2 472.5 L 624.7 477.2 L 626.8 482.2 L 628.6 487.6 L 630.1 493.2 L 631.2 498.8 L 631.8 504.5 L 632.0 510.0 L 631.8 515.4 L 631.1 520.4" style="stroke-width:1.3;"/>
<path d="M 617.9 537.1 L 615.3 537.5 L 612.6 537.2 L 609.9 536.2 L 607.1 534.5 L 604.4 532.2 L 601.7 529.3 L 599.2 525.8 L 596.9 521.9 L 594.8 517.5 L 592.9 512.8 L 591.3 507.9 L 590.1 502.8 L 589.1 497.6 L 588.6 492.4 L 588.4 487.4 L 588.6 482.5 L 589.1 478.0 L 590.0 473.8 L 591.2 470.1 L 592.8 466.9 L 594.7 464.2 L 596.8 462.2 L 599.1 460.8 L 601.6 460.2 L 604.3 460.2 L 607.0 460.9 L 609.8 462.2 L 612.5 464.3 L 615.2 466.9 L 617.8 470.1 L 620.2 473.9 L 622.5 478.1 L 624.4 482.6 L 626.1 487.4 L 627.5 492.5 L 628.6 497.7 L 629.4 502.8 L 629.7 507.9 L 629.7 512.9 L 629.3 517.6"/>
<path d="M 599.6 521.8 L 597.7 517.6 L 595.9 513.2 L 594.4 508.5 L 593.3 503.7 L 592.4 498.9 L 591.8 494.0 L 591.6 489.2 L 591.7 484.7 L 592.2 480.4 L 593.0 476.4 L 594.1 472.8 L 595.5 469.7 L 597.2 467.1 L 599.1 465.0 L 601.3 463.6 L 603.6 462.8 L 606.0 462.6 L 608.6 463.0 L 611.2 464.1 L 613.8 465.8" class="th"/>
<path d="M 562.0 484.6 L 568.6 480.6 C 570.2 479.9 570.9 481.2 570.9 482.6 L 571.6 502.5 C 571.6 504.1 570.2 505.2 568.9 505.8 L 564.2 508.9 C 562.9 509.2 562.5 507.8 562.5 506.5 Z"/>
<path d="M 574.0 477.9 L 580.3 473.9 C 581.9 473.3 582.5 474.6 582.5 475.9 L 583.0 495.2 C 583.0 496.9 581.9 498.0 580.6 498.8 L 576.3 501.5 C 575.0 502.0 574.5 500.7 574.5 499.3 Z"/>
<path d="M 564.2 486.6 L 568.9 483.9 L 569.4 502.5 M 576.2 479.9 L 580.6 477.2 L 581.1 494.8" class="th"/>
<ellipse cx="594.8" cy="506.5" rx="5.1" ry="9.3" transform="rotate(-28 594.8 506.5)"/>
<ellipse cx="595.2" cy="506.2" rx="3.2" ry="6.1" transform="rotate(-28 595.2 506.2)"/>
<path d="M 576.9 511.8 L 588.8 506.5 M 579.5 525.1 L 594.2 517.8 M 564.9 526.5 L 578.2 519.8 M 568.9 531.8 L 580.9 526.5"/>
<ellipse cx="578.9" cy="518.7" rx="2.7" ry="6.4" transform="rotate(-28 578.9 518.7)"/>
<ellipse cx="583.5" cy="516.5" rx="2.7" ry="6.4" transform="rotate(-28 583.5 516.5)"/>
<path d="M 591.5 483.9 L 610.1 475.9 M 594.2 487.2 L 611.5 479.2"/>
<path d="M 630.1 506.5 L 640.7 505.2 L 642.1 507.8 L 631.4 514.5"/>
<path d="M 610.1 533.1 L 626.1 526.5 L 635.4 538.4 L 631.4 542.4 L 623.4 535.8 L 612.8 541.1 Z"/>
<path d="M 635.4 538.4 L 658.0 562.4 M 631.4 542.4 L 650.0 566.4 M 599.5 555.7 L 618.1 546.4 M 622.1 574.4 L 650.0 566.4 L 658.0 562.4"/>
<path d="M 628.8 522.5 C 642.1 533.1 655.4 546.4 663.3 559.7"/>
<ellipse cx="663.3" cy="566.4" rx="3.2" ry="5.3" transform="rotate(-20 663.3 566.4)"/>
<ellipse cx="663.3" cy="566.4" rx="1.6" ry="2.9" transform="rotate(-20 663.3 566.4)"/>
<path d="M 647.4 566.4 L 658.0 562.4 L 668.0 571.7 M 652.7 578.3 L 659.4 573.0"/>
<path d="M 599.5 522.5 L 610.1 533.1 M 604.8 535.8 L 618.1 546.4 L 623.4 535.8 M 618.1 546.4 L 620.8 554.4 L 631.4 542.4 M 642.1 563.7 L 650.0 566.4 M 587.5 546.4 L 596.8 551.7 M 610.1 514.5 L 618.1 511.8 L 626.1 526.5"/>
<path d="M 611.5 460.0 L 618.1 456.6 L 622.8 465.3 L 616.8 468.6 Z"/>
<ellipse cx="613.5" cy="467.9" rx="1.3" ry="2.1" transform="rotate(0 613.5 467.9)"/>
</g>
<path d="M 649.4 441.8 L 641.6 445.9 L 640.3 447.1 L 639.3 449.0 L 638.8 451.6 L 638.8 454.9 L 639.3 458.6 L 640.2 462.8 L 641.6 467.3 L 643.3 472.1 L 645.4 477.0 L 647.8 481.8 L 650.5 486.5 L 653.3 491.0 L 656.3 495.1 L 659.3 498.7 L 662.3 501.8 L 665.1 504.3 L 667.8 506.1 L 670.2 507.2 L 672.4 507.5 L 674.2 507.0 L 681.9 502.9 Z" class="w"/>
<ellipse cx="665.6" cy="472.3" rx="11.4" ry="34.6" transform="rotate(-28 665.6 472.3)" class="w"/>
<path d="M 672.2 507.5 L 679.5 503.6" style="stroke-width:1.8;"/>
<path d="M 669.9 507.0 L 677.2 503.1" style="stroke-width:1.8;"/>
<path d="M 667.2 505.8 L 674.6 501.9" style="stroke-width:1.8;"/>
<path d="M 664.4 503.7 L 671.7 499.8" style="stroke-width:1.8;"/>
<path d="M 661.3 500.9 L 668.6 497.0" style="stroke-width:1.8;"/>
<path d="M 658.1 497.4 L 665.5 493.5" style="stroke-width:1.8;"/>
<path d="M 655.0 493.3 L 662.3 489.4" style="stroke-width:1.8;"/>
<path d="M 651.9 488.8 L 659.3 484.9" style="stroke-width:1.8;"/>
<path d="M 649.0 483.9 L 656.3 480.0" style="stroke-width:1.8;"/>
<path d="M 646.3 478.8 L 653.7 474.9" style="stroke-width:1.8;"/>
<path d="M 644.0 473.7 L 651.3 469.8" style="stroke-width:1.8;"/>
<path d="M 642.0 468.6 L 649.4 464.7" style="stroke-width:1.8;"/>
<path d="M 640.5 463.8 L 647.8 459.9" style="stroke-width:1.8;"/>
<path d="M 639.4 459.3 L 646.8 455.4" style="stroke-width:1.8;"/>
<path d="M 638.9 455.3 L 646.2 451.3" style="stroke-width:1.8;"/>
<path d="M 638.8 451.8 L 646.2 447.9" style="stroke-width:1.8;"/>
<path d="M 639.3 449.0 L 646.7 445.1" style="stroke-width:1.8;"/>
<ellipse cx="665.6" cy="472.3" rx="9.6" ry="30.2" transform="rotate(-28 665.6 472.3)"/>
<ellipse cx="665.6" cy="472.3" rx="7.4" ry="22.8" transform="rotate(-28 665.6 472.3)" style="stroke-width:2.4;"/>
<ellipse cx="665.6" cy="472.3" rx="2.6" ry="7.9" transform="rotate(-28 665.6 472.3)" style="stroke-width:1.6;"/>
<path d="M 668.0 471.1 L 672.2 468.8" style="stroke-width:2;"/>
<path d="M 669.3 474.2 L 676.2 477.9" style="stroke-width:2;"/>
<path d="M 670.0 477.0 L 678.1 485.9" style="stroke-width:2;"/>
<path d="M 669.8 478.8 L 677.5 491.2" style="stroke-width:2;"/>
<path d="M 668.7 479.4 L 674.6 492.7" style="stroke-width:2;"/>
<path d="M 667.1 478.6 L 669.9 490.2" style="stroke-width:2;"/>
<path d="M 665.2 476.5 L 664.3 484.2" style="stroke-width:2;"/>
<path d="M 663.3 473.6 L 659.1 475.8" style="stroke-width:2;"/>
<path d="M 661.9 470.4 L 655.1 466.7" style="stroke-width:2;"/>
<path d="M 661.3 467.7 L 653.2 458.8" style="stroke-width:2;"/>
<path d="M 661.5 465.8 L 653.7 453.5" style="stroke-width:2;"/>
<path d="M 662.5 465.3 L 656.7 451.9" style="stroke-width:2;"/>
<path d="M 664.2 466.1 L 661.4 454.4" style="stroke-width:2;"/>
<path d="M 666.1 468.2 L 666.9 460.5" style="stroke-width:2;"/>
<path d="M 693.4 447.4 L 681.4 453.8 L 680.9 454.1 L 680.6 454.7 L 680.4 455.3 L 680.3 456.1 L 680.3 457.1 L 680.4 458.1 L 680.7 459.2 L 681.1 460.3 L 681.5 461.5 L 682.1 462.6 L 682.7 463.7 L 683.4 464.7 L 684.2 465.7 L 684.9 466.5 L 685.7 467.2 L 686.4 467.7 L 687.2 468.1 L 687.8 468.3 L 688.5 468.3 L 689.0 468.1 L 701.0 461.7 Z" class="w"/>
<ellipse cx="697.2" cy="454.6" rx="3.5" ry="8.1" transform="rotate(-28 697.2 454.6)" class="w"/>
<ellipse cx="697.2" cy="454.6" rx="2.2" ry="5.3" transform="rotate(-28 697.2 454.6)"/>
<path d="M 718.3 413.6 L 698.0 424.4 L 696.6 425.5 L 695.5 427.1 L 694.8 429.3 L 694.4 431.9 L 694.5 434.8 L 694.9 438.1 L 695.7 441.6 L 696.9 445.2 L 698.3 448.9 L 700.1 452.5 L 702.1 456.1 L 704.3 459.3 L 706.7 462.3 L 709.2 464.9 L 711.6 467.1 L 714.1 468.8 L 716.4 470.0 L 718.6 470.6 L 720.6 470.6 L 722.3 470.0 L 742.6 459.2 Z" class="w"/>
<ellipse cx="730.5" cy="436.4" rx="11.4" ry="25.9" transform="rotate(-28 730.5 436.4)" class="w"/>
<path d="M 723.1 470.7 L 720.7 469.0 L 719.7 470.7 L 717.2 468.3 L 715.6 469.0 L 713.3 466.0 L 711.2 465.7 L 709.2 462.2 L 706.8 461.0 L 705.3 457.3 L 702.8 455.2 L 701.8 451.7 L 699.4 448.9 L 699.1 445.6 L 696.9 442.3 L 697.2 439.7 L 695.4 436.1 L 696.4 434.2 L 695.1 430.6 L 696.7 429.7 L 696.0 426.2 L 698.0 426.3 L 698.0 423.4"/>
<ellipse cx="730.5" cy="436.4" rx="5.7" ry="12.7" transform="rotate(-28 730.5 436.4)" style="stroke-width:1.8;"/>
<path d="M 736.5 446.5 L 735.8 446.5 L 735.1 446.3 L 734.3 446.0 L 733.5 445.6 L 732.7 445.0 L 731.8 444.4 L 731.0 443.5 L 730.1 442.6 L 729.3 441.6 L 728.6 440.6 L 727.8 439.4 L 727.2 438.2 L 726.5 437.0 L 726.0 435.7 L 725.5 434.5 L 725.2 433.3 L 724.9 432.1 L 724.7 430.9 L 724.6 429.8 L 724.6 428.8 L 724.7 427.9 L 724.9 427.1 L 725.1 426.5 L 725.5 425.9"/>
<ellipse cx="747.6" cy="426.1" rx="3.3" ry="3.3" transform="rotate(0 747.6 426.1)" class="w"/>
<ellipse cx="520.4" cy="503.2" rx="2.0" ry="3.1" transform="rotate(-28 520.4 503.2)" style="stroke-width:1.4;"/>
<path d="M 500.0 563.5 L 782.6 408.8" class="ax"/>
<path d="M577.1 449.4 L575.6 474.7" class="ld"/>
<path d="M532.4 480.0 L521.9 500.6" class="ld"/>
<path d="M638.5 424.2 L644.6 444.7" class="ld"/>
<path d="M672.1 412.2 L688.4 447.4" class="ld"/>
<path d="M703.8 397.5 L711.4 424.4" class="ld"/>
<path d="M733.1 386.3 L746.5 422.4" class="ld"/>
<g class="hm">
<path d="M 765.9 372.6 C 755.9 383.2 755.9 404.5 769.9 431.1 C 785.9 457.7 812.5 483.0 836.4 488.3 C 855.0 490.3 871.0 479.0 873.9 464.4 L 864.4 440.4 L 861.0 421.8 C 849.7 399.2 839.1 383.2 828.4 373.9 L 823.1 360.6 L 816.5 351.3 L 807.2 351.3 L 785.9 365.3 L 780.5 369.2 Z" class="w" style="stroke-width:1.3;"/>
<path d="M 769.9 374.6 C 760.9 384.5 761.3 404.5 774.6 429.8 C 789.9 455.0 815.1 477.7 837.7 483.2 C 853.7 485.0 865.7 476.3 869.7 465.7"/>
<path d="M 773.9 375.9 C 765.9 385.9 766.6 401.8 777.9 425.8" class="th"/>
<path d="M 763.3 377.9 C 769.9 373.9 776.6 372.3 783.9 373.2 M 761.3 384.5 C 768.6 379.5 775.2 377.9 781.2 379.0 M 760.9 391.2 C 767.2 386.1 772.6 384.8 777.2 385.9 M 761.9 397.8 C 765.9 393.8 769.9 392.5 773.9 393.6"/>
<path d="M 802.9 381.2 C 800.5 392.5 793.8 404.5 790.1 421.8 C 799.2 444.4 823.1 468.3 847.1 477.7"/>
<path d="M 809.8 376.6 C 808.5 387.2 804.5 396.5 801.8 404.5 M 828.4 378.6 C 839.1 389.9 849.7 404.5 857.0 421.8"/>
<path d="M 790.1 421.8 L 775.9 425.8 M 792.5 423.1 C 801.8 443.1 823.1 464.4 844.4 472.3" class="th"/>
<path d="M 785.9 365.3 L 788.5 369.9 L 809.8 356.6 L 807.2 351.3 M 788.5 369.9 L 773.9 393.8 M 792.5 369.9 L 777.9 393.8 M 804.5 358.6 L 787.2 392.5 M 808.5 358.6 L 792.5 389.9"/>
<path d="M 811.1 358.6 C 809.8 364.6 812.5 368.6 817.8 368.6 L 828.4 373.9 M 817.8 368.6 L 816.5 376.6 L 823.1 381.2 L 829.1 377.9"/>
<ellipse cx="816.2" cy="358.6" rx="2.9" ry="4.3" transform="rotate(-20 816.2 358.6)" class="w"/>
<ellipse cx="816.5" cy="358.6" rx="1.5" ry="2.4" transform="rotate(-20 816.5 358.6)"/>
<path d="M 766.2 399.2 L 783.2 392.5 L 786.5 402.5 L 769.9 409.8 Z M 769.9 409.8 L 773.9 421.8 L 789.9 415.1 L 786.5 402.5 M 776.6 423.1 L 792.5 417.1"/>
<path d="M 787.6 402.2 L 779.7 407.1 L 779.2 407.4 L 778.9 407.9 L 778.7 408.4 L 778.5 409.1 L 778.5 409.8 L 778.5 410.5 L 778.7 411.3 L 778.9 412.1 L 779.3 412.9 L 779.7 413.7 L 780.2 414.4 L 780.7 415.0 L 781.4 415.6 L 782.0 416.1 L 782.6 416.5 L 783.3 416.7 L 783.9 416.9 L 784.5 416.9 L 785.1 416.8 L 785.6 416.6 L 793.5 411.6 Z" class="w"/>
<ellipse cx="790.5" cy="406.9" rx="3.5" ry="5.6" transform="rotate(-32 790.5 406.9)" class="w"/>
<ellipse cx="790.8" cy="406.8" rx="1.6" ry="2.7" transform="rotate(-32 790.8 406.8)"/>
<path d="M 793.8 401.8 L 801.8 404.5 L 804.5 416.5 L 796.5 423.1 L 789.9 415.1 M 801.8 404.5 L 799.2 415.1 L 796.5 423.1"/>
<ellipse cx="821.8" cy="426.4" rx="6.9" ry="14.4" transform="rotate(-32 821.8 426.4)" class="w"/>
<ellipse cx="821.8" cy="426.4" rx="5.7" ry="11.8" transform="rotate(-32 821.8 426.4)"/>
<ellipse cx="821.8" cy="426.4" rx="4.4" ry="9.2" transform="rotate(-32 821.8 426.4)"/>
<ellipse cx="821.8" cy="426.4" rx="3.2" ry="6.6" transform="rotate(-32 821.8 426.4)"/>
<ellipse cx="821.8" cy="426.4" rx="2.1" ry="4.3" transform="rotate(-32 821.8 426.4)"/>
<path d="M 834.1 403.4 L 825.7 408.7 L 824.9 409.4 L 824.3 410.4 L 823.9 411.6 L 823.8 413.0 L 823.8 414.6 L 824.1 416.4 L 824.7 418.2 L 825.4 420.1 L 826.3 422.1 L 827.4 423.9 L 828.6 425.7 L 829.9 427.4 L 831.3 428.9 L 832.8 430.2 L 834.2 431.2 L 835.6 432.0 L 837.0 432.5 L 838.2 432.7 L 839.4 432.6 L 840.3 432.1 L 848.8 426.9 Z" class="w"/>
<ellipse cx="841.5" cy="415.1" rx="6.7" ry="13.8" transform="rotate(-32 841.5 415.1)" class="w"/>
<ellipse cx="841.5" cy="415.1" rx="5.3" ry="11.2" transform="rotate(-32 841.5 415.1)" style="stroke-width:1.8;"/>
<ellipse cx="841.5" cy="415.1" rx="4.0" ry="8.5" transform="rotate(-32 841.5 415.1)" style="stroke-width:1.5;"/>
<ellipse cx="841.5" cy="415.1" rx="2.7" ry="5.9" transform="rotate(-32 841.5 415.1)" style="stroke-width:2;"/>
<ellipse cx="841.5" cy="415.1" rx="1.2" ry="2.7" transform="rotate(-32 841.5 415.1)"/>
<path d="M 855.0 425.8 L 863.0 421.8 L 871.0 425.8 L 873.0 435.1 L 865.7 439.1 L 857.0 436.4 Z M 863.0 421.8 L 864.4 432.4 L 857.0 436.4 M 864.4 432.4 L 873.0 435.1" class="w"/>
<path d="M 863.0 441.7 C 865.7 449.7 865.7 455.0 863.0 461.0 M 867.0 441.1 C 869.7 449.7 869.7 456.4 867.0 461.7"/>
<path d="M 831.1 468.3 L 840.4 463.7 L 847.7 467.0 L 848.4 475.7 L 840.4 479.0 L 833.1 475.0 Z M 840.4 463.7 L 841.1 472.3 L 833.1 475.0 M 841.1 472.3 L 848.4 475.7" class="w"/>
<path d="M 853.0 464.4 L 861.0 460.4 L 871.0 463.0 L 873.0 468.3 L 864.4 475.7 L 855.0 473.0 Z M 861.0 460.4 L 862.4 469.7 L 855.0 473.0 M 862.4 469.7 L 873.0 468.3" class="w"/>
<path d="M 845.7 481.6 C 852.4 484.3 857.7 483.0 863.0 479.0"/>
<path d="M 839.1 468.3 L 843.1 475.0 L 845.7 469.7 Z M 863.0 463.0 L 868.3 471.0 L 871.0 464.4 Z" class="th"/>
</g>
<path d="M 746.6 425.8 L 788.5 406.1" class="ax"/>
<path d="M 736.7 481.0 L 863.0 398.9" class="ax"/>
<path d="M 874.5 389.0 L 853.6 402.1 L 853.3 402.3 L 853.1 402.7 L 853.0 403.1 L 853.0 403.6 L 853.0 404.2 L 853.1 404.8 L 853.3 405.4 L 853.5 406.1 L 853.9 406.8 L 854.3 407.5 L 854.7 408.1 L 855.2 408.7 L 855.7 409.2 L 856.2 409.7 L 856.7 410.1 L 857.2 410.3 L 857.7 410.5 L 858.1 410.6 L 858.5 410.6 L 858.8 410.4 L 879.7 397.4 Z" class="w"/>
<ellipse cx="877.1" cy="393.2" rx="2.3" ry="4.9" transform="rotate(-32 877.1 393.2)" class="w"/>
<path d="M 856.6 403.4 L 859.9 405.0 M 859.9 399.3 L 862.3 403.4" class="th"/>
<ellipse cx="884.5" cy="388.9" rx="19.7" ry="37.5" transform="rotate(-32 884.5 388.9)" class="w"/>
<path d="M 892.4 384.1 L 904.1 383.6 L 900.2 380.5" style="stroke-width:1.3;"/>
<path d="M 894.3 387.6 L 906.8 389.4 L 902.9 385.7" style="stroke-width:1.3;"/>
<path d="M 895.9 391.2 L 908.8 395.2 L 905.1 390.9" style="stroke-width:1.3;"/>
<path d="M 897.1 394.7 L 910.0 400.8 L 906.7 396.1" style="stroke-width:1.3;"/>
<path d="M 897.8 398.2 L 910.5 406.0 L 907.6 401.0" style="stroke-width:1.3;"/>
<path d="M 898.0 401.4 L 910.1 410.8 L 907.8 405.6" style="stroke-width:1.3;"/>
<path d="M 897.8 404.2 L 909.0 414.8 L 907.3 409.7" style="stroke-width:1.3;"/>
<path d="M 897.0 406.7 L 907.2 418.1 L 906.1 413.2" style="stroke-width:1.3;"/>
<path d="M 895.8 408.7 L 904.7 420.5 L 904.3 415.9" style="stroke-width:1.3;"/>
<path d="M 894.2 410.1 L 901.5 421.9 L 901.8 417.8" style="stroke-width:1.3;"/>
<path d="M 892.3 410.9 L 897.8 422.4 L 898.8 418.8" style="stroke-width:1.3;"/>
<path d="M 890.0 411.1 L 893.8 421.8 L 895.4 418.9" style="stroke-width:1.3;"/>
<path d="M 887.4 410.7 L 889.4 420.2 L 891.7 418.1" style="stroke-width:1.3;"/>
<path d="M 884.8 409.7 L 884.9 417.6 L 887.7 416.4" style="stroke-width:1.3;"/>
<path d="M 882.0 408.0 L 880.4 414.2 L 883.6 413.9" style="stroke-width:1.3;"/>
<path d="M 879.2 405.9 L 876.0 410.1 L 879.6 410.6" style="stroke-width:1.3;"/>
<path d="M 876.5 403.3 L 871.9 405.2 L 875.7 406.7" style="stroke-width:1.3;"/>
<path d="M 874.0 400.3 L 868.1 399.9 L 872.1 402.2" style="stroke-width:1.3;"/>
<path d="M 871.7 397.0 L 864.9 394.3 L 868.8 397.3" style="stroke-width:1.3;"/>
<path d="M 869.8 393.5 L 862.2 388.5 L 866.1 392.2" style="stroke-width:1.3;"/>
<path d="M 868.2 389.9 L 860.3 382.7 L 863.9 386.9" style="stroke-width:1.3;"/>
<path d="M 867.0 386.4 L 859.0 377.0 L 862.3 381.8" style="stroke-width:1.3;"/>
<path d="M 866.3 383.0 L 858.6 371.8 L 861.4 376.8" style="stroke-width:1.3;"/>
<path d="M 866.1 379.8 L 858.9 367.1 L 861.2 372.2" style="stroke-width:1.3;"/>
<path d="M 866.3 376.9 L 860.0 363.0 L 861.7 368.1" style="stroke-width:1.3;"/>
<path d="M 867.1 374.4 L 861.8 359.7 L 862.9 364.7" style="stroke-width:1.3;"/>
<path d="M 868.2 372.5 L 864.4 357.3 L 864.7 361.9" style="stroke-width:1.3;"/>
<path d="M 869.8 371.1 L 867.5 355.9 L 867.2 360.0" style="stroke-width:1.3;"/>
<path d="M 871.8 370.2 L 871.2 355.5 L 870.2 359.0" style="stroke-width:1.3;"/>
<path d="M 874.1 370.0 L 875.3 356.1 L 873.6 358.9" style="stroke-width:1.3;"/>
<path d="M 876.6 370.5 L 879.6 357.7 L 877.3 359.7" style="stroke-width:1.3;"/>
<path d="M 879.3 371.5 L 884.1 360.2 L 881.3 361.4" style="stroke-width:1.3;"/>
<path d="M 882.1 373.1 L 888.6 363.6 L 885.4 363.9" style="stroke-width:1.3;"/>
<path d="M 884.9 375.2 L 893.0 367.8 L 889.4 367.2" style="stroke-width:1.3;"/>
<path d="M 887.6 377.8 L 897.1 372.6 L 893.3 371.1" style="stroke-width:1.3;"/>
<path d="M 890.1 380.8 L 900.9 377.9 L 896.9 375.6" style="stroke-width:1.3;"/>
<ellipse cx="882.0" cy="390.6" rx="12.2" ry="23.0" transform="rotate(-32 882.0 390.6)" class="w"/>
<path d="M 880.3 380.2 L 874.0 384.1 L 873.4 384.6 L 873.0 385.3 L 872.7 386.2 L 872.5 387.2 L 872.5 388.3 L 872.7 389.5 L 873.0 390.8 L 873.5 392.2 L 874.1 393.5 L 874.9 394.8 L 875.7 396.0 L 876.6 397.2 L 877.6 398.2 L 878.6 399.0 L 879.7 399.7 L 880.7 400.3 L 881.7 400.6 L 882.6 400.7 L 883.4 400.6 L 884.1 400.3 L 890.4 396.3 Z" class="w"/>
<ellipse cx="885.3" cy="388.3" rx="4.9" ry="9.5" transform="rotate(-32 885.3 388.3)" class="w"/>
<ellipse cx="885.3" cy="388.3" rx="3.0" ry="5.9" transform="rotate(-32 885.3 388.3)"/>
<path d="M 871.2 389.6 L 865.6 393.1 L 865.2 393.4 L 864.9 393.9 L 864.7 394.5 L 864.6 395.2 L 864.6 395.9 L 864.8 396.8 L 865.0 397.7 L 865.3 398.6 L 865.8 399.5 L 866.3 400.4 L 866.9 401.2 L 867.5 402.0 L 868.2 402.7 L 868.9 403.3 L 869.6 403.8 L 870.3 404.2 L 870.9 404.4 L 871.5 404.5 L 872.1 404.4 L 872.6 404.2 L 878.1 400.7 Z" class="w"/>
<ellipse cx="874.6" cy="395.2" rx="3.3" ry="6.6" transform="rotate(-32 874.6 395.2)" class="w"/>
<path d="M 887.7 360.4 L 941.7 326.7 C 948.6 321.2 956.8 318.8 965.0 320.1 L 979.8 346.7 C 976.5 355.7 971.6 362.3 966.0 365.7 L 912.0 399.4 L 912.0 399.4 L 910.6 400.1 L 909.0 400.4 L 907.3 400.3 L 905.4 399.9 L 903.4 399.2 L 901.4 398.1 L 899.3 396.8 L 897.3 395.1 L 895.2 393.2 L 893.3 391.0 L 891.5 388.7 L 889.8 386.2 L 888.3 383.6 L 887.0 380.9 L 885.9 378.2 L 885.1 375.6 L 884.5 373.0 L 884.1 370.5 L 884.1 368.2 L 884.3 366.1 L 884.7 364.3 L 885.5 362.7 L 886.4 361.4 L 887.7 360.4 Z" class="w"/>
<path d="M 919.7 394.6 L 918.3 395.3 L 916.7 395.6 L 914.9 395.5 L 913.0 395.1 L 911.1 394.4 L 909.0 393.3 L 907.0 392.0 L 904.9 390.3 L 902.9 388.4 L 901.0 386.2 L 899.1 383.9 L 897.5 381.4 L 896.0 378.8 L 894.7 376.1 L 893.6 373.4 L 892.7 370.8 L 892.1 368.2 L 891.8 365.8 L 891.7 363.5 L 891.9 361.4 L 892.4 359.5 L 893.1 357.9 L 894.1 356.6 L 895.3 355.6"/>
<path d="M 941.7 326.7 L 943.1 326.0 L 944.7 325.7 L 946.4 325.8 L 948.3 326.2 L 950.3 326.9 L 952.3 328.0 L 954.4 329.4 L 956.4 331.0 L 958.5 332.9 L 960.4 335.1 L 962.2 337.4 L 963.9 339.9 L 965.4 342.5 L 966.7 345.2 L 967.8 347.9 L 968.6 350.5 L 969.2 353.1 L 969.6 355.6 L 969.6 357.9 L 969.4 360.0 L 969.0 361.8 L 968.2 363.4 L 967.2 364.7 L 966.0 365.7"/>
<path d="M 895.8 356.3 L 942.1 327.4" style="stroke-width:2.8;"/>
<path d="M 919.4 394.2 L 965.8 365.3" style="stroke-width:1.6;"/>
<path d="M 902.2 357.1 L 947.0 329.2" style="stroke-width:1.8;"/>
<path d="M 902.3 360.0 L 949.5 330.5" style="stroke-width:1.4;"/>
<path d="M 902.6 361.7 L 950.9 331.5" style="stroke-width:0.9;"/>
<path d="M 904.9 369.0 L 956.5 336.8" style="stroke-width:1.5;"/>
<path d="M 905.7 370.8 L 957.8 338.3" style="stroke-width:0.9;"/>
<path d="M 909.8 377.6 L 962.0 344.9" style="stroke-width:1.5;"/>
<path d="M 911.2 379.4 L 963.1 347.0" style="stroke-width:0.9;"/>
<path d="M 917.4 385.4 L 965.7 355.2" style="stroke-width:1.6;"/>
<path d="M 919.3 386.7 L 966.1 357.6" style="stroke-width:0.9;"/>
<path d="M 922.8 388.4 L 966.0 361.4" style="stroke-width:1.6;"/>
<path d="M 973.5 317.7 L 965.8 322.5 L 965.0 323.2 L 964.4 324.2 L 964.0 325.4 L 963.8 326.8 L 963.8 328.4 L 964.0 330.1 L 964.5 332.0 L 965.2 333.8 L 966.1 335.7 L 967.1 337.6 L 968.3 339.3 L 969.6 340.9 L 971.0 342.3 L 972.4 343.6 L 973.9 344.6 L 975.3 345.3 L 976.7 345.7 L 978.0 345.9 L 979.1 345.8 L 980.1 345.3 L 987.8 340.5 Z" class="w"/>
<ellipse cx="980.6" cy="329.1" rx="6.9" ry="13.5" transform="rotate(-32 980.6 329.1)" class="w"/>
<path d="M 979.6 345.6 L 987.2 340.8" style="stroke-width:1;"/>
<path d="M 977.7 345.9 L 985.3 341.1" style="stroke-width:1;"/>
<path d="M 975.5 345.4 L 983.1 340.6" style="stroke-width:1;"/>
<path d="M 973.1 344.0 L 980.7 339.2" style="stroke-width:1;"/>
<path d="M 970.7 342.0 L 978.3 337.3" style="stroke-width:1;"/>
<path d="M 968.4 339.5 L 976.1 334.7" style="stroke-width:1;"/>
<path d="M 966.5 336.6 L 974.2 331.8" style="stroke-width:1;"/>
<path d="M 965.0 333.4 L 972.7 328.6" style="stroke-width:1;"/>
<path d="M 964.1 330.3 L 971.7 325.5" style="stroke-width:1;"/>
<path d="M 963.7 327.5 L 971.4 322.7" style="stroke-width:1;"/>
<path d="M 964.0 325.1 L 971.7 320.3" style="stroke-width:1;"/>
<path d="M 964.9 323.3 L 972.6 318.5" style="stroke-width:1;"/>
<path d="M 989.0 318.9 L 983.5 322.4 L 983.2 322.6 L 983.0 322.9 L 982.8 323.3 L 982.8 323.8 L 982.8 324.3 L 982.8 324.9 L 983.0 325.5 L 983.2 326.1 L 983.5 326.7 L 983.8 327.2 L 984.2 327.8 L 984.6 328.3 L 985.0 328.7 L 985.5 329.1 L 986.0 329.4 L 986.4 329.7 L 986.9 329.8 L 987.3 329.8 L 987.7 329.8 L 988.0 329.6 L 993.6 326.2 Z" class="w"/>
<ellipse cx="991.3" cy="322.5" rx="2.3" ry="4.3" transform="rotate(-32 991.3 322.5)" class="w"/>
<path d="M 991.3 318.3 L 995.4 319.2 L 996.2 322.9 L 993.8 326.5"/>
<path d="M 1006.4 297.8 L 1014.1 293.0 L 1015.0 292.6 L 1016.1 292.5 L 1017.3 292.6 L 1018.6 293.0 L 1019.9 293.7 L 1021.3 294.6 L 1022.6 295.7 L 1023.9 297.0 L 1025.1 298.5 L 1026.2 300.1 L 1027.2 301.8 L 1028.0 303.6 L 1028.6 305.3 L 1029.1 307.0 L 1029.3 308.6 L 1029.3 310.1 L 1029.1 311.5 L 1028.7 312.6 L 1028.1 313.5 L 1027.3 314.2 L 1019.6 319.0 Z" class="w"/>
<ellipse cx="1013.0" cy="308.4" rx="6.6" ry="12.5" transform="rotate(-32 1013.0 308.4)" class="w"/>
<ellipse cx="1013.7" cy="307.7" rx="1.8" ry="3.0" transform="rotate(-32 1013.7 307.7)"/>
<path d="M 853.3 406.0 L 1047.2 286.7" class="ax"/>
<path d="M1016.3 381.4 L1018.4 306.4" class="ld"/>
<path d="M943.6 424.7 L938.7 362.3" class="ld"/>
<path d="M885.0 454.9 L865.6 442.0" class="ld"/>
<path d="M 1048.0 288.0 L 1048.0 405.8 L 354.6 843.3" class="ds"/>
<path d="M 826.4 278.8 L 824.5 270.1 C 826.4 256.3 833.9 243.8 842.7 240.7 L 850.2 239.4 C 855.2 231.3 865.2 226.3 877.7 226.3 L 879.6 228.1 L 877.7 235.0 L 872.7 238.2 C 867.7 241.3 862.7 241.9 860.2 244.4 L 858.3 253.8 L 860.8 257.6 L 861.5 263.8 L 855.2 267.6 L 847.7 270.1 L 840.2 273.8 L 828.9 278.2 Z" class="w" style="stroke-width:1.3;"/>
<path d="M 830.2 273.8 C 828.9 265.1 835.2 252.6 842.7 245.0 L 850.2 243.2 L 853.3 261.3 L 832.0 271.3 Z"/>
<path d="M 833.9 263.8 L 841.4 248.2 L 848.9 254.4 L 840.8 260.7 Z M 841.4 248.2 L 845.2 246.3 L 845.8 249.4 L 848.9 247.6"/>
<path d="M 853.9 256.3 C 853.3 246.3 855.2 236.3 864.0 229.4 M 857.1 255.1 C 856.4 246.3 859.0 237.5 866.5 231.9"/>
<path d="M 862.7 233.8 C 866.5 230.0 871.5 228.8 875.2 230.0 L 874.0 235.0 C 870.2 237.5 865.2 238.8 862.7 237.5 Z"/>
<path d="M 836.4 275.1 L 837.0 277.0 L 840.2 275.7 M 845.2 271.3 L 845.8 272.8 L 850.2 271.1" class="th"/>
<path d="M 776.9 305.1 L 775.7 301.4 L 778.8 282.6 L 801.4 270.1 L 812.0 267.0 L 813.9 268.8 L 800.1 291.4 L 802.0 297.6 L 793.8 311.4 L 788.8 313.3 L 783.8 302.6 Z" class="w" style="stroke-width:1.3;"/>
<path d="M 780.1 283.6 L 798.6 273.8 M 779.5 289.1 L 798.9 279.1 M 778.8 295.1 L 798.9 285.1" style="stroke-width:1.2;"/>
<path d="M 778.2 300.8 L 798.2 290.5 M 777.8 302.9 L 798.2 292.4" style="stroke-width:2;"/>
<path d="M 801.4 270.1 L 798.2 290.7 L 800.1 291.4 M 780.7 283.2 L 778.2 301.4 M 798.6 273.6 L 797.6 290.1"/>
<path d="M 803.2 283.2 L 810.1 272.0 L 811.4 270.1" style="stroke-width:2.5;"/>
<path d="M 783.8 302.6 L 798.2 295.1 M 788.8 305.1 L 792.6 312.0 M 798.2 295.1 L 799.5 293.2"/>
<path d="M 736.3 312.7 L 742.5 305.1 L 750.0 318.9 L 758.8 328.3 L 760.7 335.2 L 753.2 343.3 L 743.8 328.9 Z" class="w" style="stroke-width:1.2;"/>
<path d="M 737.8 313.9 L 745.6 327.7 L 753.8 341.4 M 745.6 327.7 L 750.0 318.9 M 743.8 328.9 L 746.0 325.2"/>
<ellipse cx="743.5" cy="315.2" rx="1.0" ry="1.8" transform="rotate(-25 743.5 315.2)"/>
<ellipse cx="756.3" cy="330.8" rx="1.0" ry="1.8" transform="rotate(-25 756.3 330.8)"/>
<path d="M 755.0 341.4 L 770.1 370.0" class="ld"/>
<path d="M835.4 307.4 L801.1 291.0" class="ld"/>
<path d="M796.6 329.3 L750.7 325.8" class="ld"/>
<path d="M894.3 272.0 L858.9 257.9" class="ld"/>
<path d="M732.8 386.3 L746.6 421.0" class="ld"/>
<path d="M815.4 514.5 L819.0 472.1" class="ld"/>
<g class="hv">
<path d="M 987.2 549.3 C 991.4 546.9 999.8 545.2 1003.6 543.0 C 1007.5 540.8 994.7 544.8 1003.6 539.9 C 1012.6 535.0 1029.8 526.5 1042.0 521.9 C 1054.2 517.3 1051.0 519.7 1056.1 520.0 C 1061.2 520.4 1061.2 521.2 1063.9 523.5 C 1066.6 525.7 1067.3 525.7 1067.8 529.7 C 1068.4 533.8 1065.7 534.8 1066.2 540.7 C 1066.8 546.5 1067.1 547.5 1070.2 554.8 C 1073.3 562.1 1074.1 562.9 1079.5 572.0 C 1085.0 581.1 1087.1 582.9 1093.6 593.9 C 1100.2 604.9 1101.5 607.3 1107.7 618.9 C 1113.9 630.6 1114.8 632.3 1120.2 644.0 C 1125.7 655.7 1127.5 657.9 1131.2 669.0 C 1134.9 680.1 1133.2 681.3 1136.2 691.6 C 1139.1 702.0 1140.3 705.2 1144.0 713.6 C 1147.6 722.0 1150.3 722.9 1151.8 727.6 C 1153.3 732.4 1150.1 730.6 1150.2 733.9 C 1150.4 737.2 1153.3 738.1 1152.6 741.7 C 1151.9 745.4 1149.8 747.0 1147.1 749.5 C 1144.4 752.1 1144.1 751.2 1140.8 752.7 C 1137.6 754.1 1135.6 753.2 1133.0 755.8 C 1130.5 758.4 1131.4 760.0 1129.9 763.6 C 1128.4 767.3 1129.3 766.3 1126.8 771.5 C 1124.2 776.6 1122.2 780.1 1118.9 785.5 C 1115.6 791.0 1115.2 792.7 1112.7 794.9 C 1110.1 797.1 1110.9 796.8 1108.0 794.9 C 1105.1 793.1 1103.4 791.1 1100.2 787.1 C 1096.9 783.1 1095.0 782.8 1093.9 777.7 C 1092.8 772.6 1093.6 771.0 1095.5 765.2 C 1097.3 759.4 1100.6 760.0 1101.7 752.7 C 1102.8 745.4 1102.0 741.9 1100.2 733.9 C 1098.3 725.9 1097.5 723.7 1093.9 718.2 C 1090.2 712.8 1088.9 713.3 1084.5 710.4 C 1080.1 707.5 1077.7 707.9 1075.1 705.7 C 1072.6 703.5 1075.0 705.4 1073.6 701.0 C 1072.1 696.7 1072.1 694.6 1068.9 686.9 C 1065.6 679.3 1063.5 673.6 1059.5 668.2 C 1055.5 662.7 1054.6 661.6 1051.6 663.5 C 1048.7 665.3 1050.2 672.0 1046.9 676.0 C 1043.7 680.0 1041.9 681.4 1037.6 680.7 C 1033.2 680.0 1030.1 673.0 1028.2 672.9 C 1026.3 672.7 1032.1 680.9 1029.5 680.0 C 1026.8 679.1 1022.1 674.5 1016.9 669.0 C 1011.8 663.5 1011.2 663.1 1007.6 656.5 C 1003.9 649.9 1003.3 647.4 1001.3 640.8 C 999.3 634.3 999.3 634.9 999.0 628.3 C 998.6 621.8 1002.5 622.2 999.7 612.7 C 997.0 603.2 990.7 596.8 987.2 587.6 C 983.7 578.5 985.2 581.6 984.9 573.6 C 984.5 565.5 985.1 558.9 985.6 553.2 C 986.2 547.5 983.0 551.7 987.2 549.3 Z" class="w" style="stroke-width:1.3;"/>
<path d="M 1060.8 534.4 C 1060.3 537.8 1057.9 539.4 1059.2 546.9 C 1060.5 554.5 1060.5 553.4 1065.5 562.6 C 1070.5 571.8 1070.9 570.5 1078.0 581.4 C 1085.1 592.2 1085.0 591.6 1092.1 603.3 C 1099.2 615.0 1097.9 612.7 1104.6 625.2 C 1111.3 637.7 1110.8 636.5 1117.1 650.2 C 1123.4 664.0 1124.2 665.4 1128.1 676.8 C 1131.9 688.3 1128.5 683.4 1131.5 693.2 C 1134.4 703.0 1135.5 705.2 1139.3 713.6 C 1143.0 721.9 1143.9 721.6 1145.5 724.5"/>
<path d="M 1063.9 531.3 C 1063.6 535.1 1061.5 537.7 1062.6 545.4 C 1063.8 553.1 1063.6 551.3 1068.3 560.3 C 1073.0 569.2 1073.4 568.2 1080.3 579.0 C 1087.3 589.9 1087.3 589.0 1094.4 600.9 C 1101.5 612.8 1100.3 611.1 1106.9 623.6 C 1113.6 636.2 1113.3 634.5 1119.5 647.9 C 1125.6 661.2 1126.1 661.8 1129.9 673.7 C 1133.8 685.6 1130.8 681.8 1134.0 692.4 C 1137.1 703.1 1137.7 704.8 1141.6 713.6 C 1145.6 722.3 1146.8 722.2 1148.7 725.3" class="th"/>
<path d="M 1006.0 546.9 L 1057.6 523.5 M 1006.9 549.5 L 1058.6 526.0 M 1007.9 552.0 L 1059.5 528.5 M 1003.6 543.0 L 1006.0 546.9 L 1005.2 562.6 M 987.2 549.3 L 1003.6 554.0 L 1005.2 562.6 M 985.6 553.2 L 987.5 560.3 L 1003.6 564.2 M 987.5 560.3 L 988.8 581.4"/>
<path d="M 1009.1 539.1 L 1011.0 541.0 M 1016.9 535.7 L 1018.8 537.6 M 1024.8 532.1 L 1026.7 534.0 M 1032.6 528.5 L 1034.5 530.4" class="th"/>
<path d="M 1059.5 528.5 L 1057.6 536.0 L 1051.4 550.1 M 1063.9 523.5 L 1060.8 534.4"/>
<path d="M 990.0 563.4 L 1002.1 609.5 M 993.5 562.6 L 1004.7 608.0 M 1006.0 546.9 L 1005.7 564.2 M 1011.0 541.0 L 1012.3 545.4 M 1018.8 537.6 L 1020.1 541.9 M 1026.7 534.0 L 1027.9 538.3 M 1034.5 530.4 L 1035.7 534.7 M 1042.3 526.6 L 1043.6 531.0 M 1050.1 523.5 L 1051.4 527.9"/>
<path d="M 1021.6 573.6 L 1016.9 584.5 M 1032.6 567.3 L 1035.7 578.2 L 1031.8 587.6 M 1048.2 581.4 L 1043.6 587.6 L 1037.3 600.2 M 1054.5 597.0 L 1063.9 601.7 L 1071.7 600.2 M 1057.6 600.2 L 1059.2 609.5"/>
<path d="M 1001.3 640.8 L 1010.7 637.7 L 1016.9 623.6 M 1007.6 656.5 L 1015.4 650.2 M 999.0 628.3 L 1009.1 625.2"/>
<path d="M 1067.0 546.9 L 1063.9 559.5 L 1057.6 565.7 M 1070.2 554.8 L 1065.5 562.6"/>
<ellipse cx="1015.4" cy="560.3" rx="3.4" ry="4.1" transform="rotate(-20 1015.4 560.3)"/>
<ellipse cx="1015.4" cy="560.3" rx="1.6" ry="2.0" transform="rotate(-20 1015.4 560.3)"/>
<ellipse cx="1051.4" cy="541.5" rx="4.1" ry="5.0" transform="rotate(-20 1051.4 541.5)"/>
<ellipse cx="1051.4" cy="541.5" rx="1.9" ry="2.5" transform="rotate(-20 1051.4 541.5)"/>
<ellipse cx="1041.2" cy="559.5" rx="2.2" ry="2.7" transform="rotate(-20 1041.2 559.5)"/>
<ellipse cx="1055.3" cy="573.6" rx="2.2" ry="2.7" transform="rotate(-20 1055.3 573.6)"/>
<ellipse cx="1003.6" cy="571.2" rx="2.2" ry="2.7" transform="rotate(-20 1003.6 571.2)"/>
<path d="M 988.8 562.6 L 996.6 576.7 L 1003.6 571.2 M 990.3 581.4 L 1001.3 615.8 L 1003.6 617.4 M 996.6 576.7 L 1003.6 600.2"/>
<path d="M 1009.1 565.7 L 1021.6 573.6 L 1032.6 567.3 L 1029.5 561.0 M 1020.1 562.6 L 1024.8 570.4 M 1035.7 565.7 L 1048.2 581.4 L 1054.5 597.0 L 1045.1 600.2 M 1046.7 562.6 L 1049.8 578.2"/>
<path d="M 1003.2 589.5 L 1031.3 578.2 C 1033.5 578.9 1033.8 582.0 1032.0 583.3 L 1004.1 595.1 C 1001.9 594.2 1001.6 590.8 1003.2 589.5 Z" class="w"/>
<path d="M 1005.5 596.4 L 1033.5 585.4 C 1035.7 586.1 1036.0 589.2 1034.2 590.5 L 1006.5 602.0 C 1004.3 601.1 1004.0 597.7 1005.5 596.4 Z" class="w"/>
<path d="M 1007.9 603.3 L 1035.7 592.6 C 1037.9 593.3 1038.2 596.4 1036.4 597.7 L 1008.8 608.9 C 1006.6 608.0 1006.3 604.5 1007.9 603.3 Z" class="w"/>
<path d="M 1010.2 610.2 L 1037.9 599.8 C 1040.1 600.5 1040.4 603.6 1038.5 604.9 L 1011.2 615.8 C 1009.0 614.9 1008.7 611.4 1010.2 610.2 Z" class="w"/>
<path d="M 1012.3 618.2 L 1038.9 608.0 L 1043.9 618.2 L 1033.4 625.2 Z M 1012.3 618.2 L 1013.0 620.5 L 1033.4 627.5 L 1033.4 625.2"/>
<path d="M 1038.9 600.2 L 1051.4 597.0 L 1057.6 600.2 L 1043.6 608.0 Z"/>
<path d="M 1091.4 603.6 L 1080.8 598.7 L 1079.5 598.2 L 1078.2 598.0 L 1076.8 598.1 L 1075.4 598.4 L 1074.1 598.9 L 1072.8 599.6 L 1071.6 600.6 L 1070.5 601.7 L 1069.5 603.0 L 1068.8 604.5 L 1068.2 606.0 L 1067.8 607.5 L 1067.6 609.1 L 1067.7 610.6 L 1067.9 612.1 L 1068.4 613.5 L 1069.1 614.7 L 1069.9 615.8 L 1070.9 616.7 L 1072.1 617.4 L 1082.7 622.3 Z" class="w"/>
<ellipse cx="1087.1" cy="613.0" rx="8.5" ry="10.3" transform="rotate(25 1087.1 613.0)" class="w"/>
<ellipse cx="1087.1" cy="613.0" rx="5.9" ry="7.4" transform="rotate(25 1087.1 613.0)" style="stroke-width:1.5;"/>
<ellipse cx="1087.1" cy="613.0" rx="3.0" ry="3.8" transform="rotate(25 1087.1 613.0)"/>
<path d="M 1084.2 612.7 L 1089.9 613.3 M 1087.1 609.5 L 1087.1 616.6" class="th"/>
<ellipse cx="1078.0" cy="598.3" rx="2.2" ry="2.7" transform="rotate(-20 1078.0 598.3)"/>
<path d="M 1071.7 601.7 C 1068.8 603.8 1064.1 603.7 1060.8 609.5 C 1057.4 615.4 1057.5 615.3 1059.2 623.6 C 1060.9 632.0 1061.6 630.8 1067.0 640.8 C 1072.5 650.9 1072.9 650.3 1079.5 661.2 C 1086.2 672.0 1084.1 669.7 1092.1 681.5 C 1100.1 693.4 1100.7 695.9 1109.5 705.7 C 1118.4 715.5 1118.1 713.2 1125.2 718.2 C 1132.3 723.3 1133.2 722.8 1136.2 724.5"/>
<path d="M 1048.2 581.4 C 1051.4 585.0 1063.9 599.6 1067.0 603.3"/>
<ellipse cx="1067.0" cy="628.3" rx="2.3" ry="2.7" transform="rotate(-20 1067.0 628.3)"/>
<ellipse cx="1094.4" cy="634.6" rx="2.3" ry="2.7" transform="rotate(-20 1094.4 634.6)"/>
<ellipse cx="1080.3" cy="647.1" rx="1.9" ry="2.2" transform="rotate(-20 1080.3 647.1)"/>
<ellipse cx="1103.0" cy="662.0" rx="2.3" ry="2.7" transform="rotate(-20 1103.0 662.0)"/>
<ellipse cx="1095.2" cy="670.6" rx="1.9" ry="2.2" transform="rotate(-20 1095.2 670.6)"/>
<ellipse cx="1110.1" cy="690.1" rx="1.9" ry="2.2" transform="rotate(-20 1110.1 690.1)"/>
<path d="M 1016.9 623.6 C 1018.8 625.5 1024.8 630.9 1027.9 634.6 C 1031.0 638.2 1031.8 643.5 1035.7 645.5 C 1039.6 647.6 1046.7 647.9 1051.4 647.1 C 1056.1 646.3 1060.8 641.1 1063.9 640.8 C 1067.0 640.6 1068.6 642.9 1070.2 645.5 C 1071.7 648.1 1072.8 654.7 1073.3 656.5"/>
<path d="M 1030.3 625.2 C 1030.5 627.0 1030.1 633.4 1031.8 636.2 C 1033.5 638.9 1037.2 640.6 1040.4 641.6 C 1043.7 642.7 1049.6 642.3 1051.4 642.4" class="th"/>
<path d="M 1035.0 654.3 L 1019.8 644.8 L 1018.8 644.3 L 1017.8 644.0 L 1016.8 643.9 L 1015.7 644.0 L 1014.6 644.3 L 1013.5 644.8 L 1012.4 645.4 L 1011.5 646.2 L 1010.6 647.1 L 1009.9 648.2 L 1009.3 649.3 L 1008.8 650.5 L 1008.5 651.7 L 1008.4 652.9 L 1008.5 654.1 L 1008.7 655.2 L 1009.1 656.2 L 1009.6 657.1 L 1010.3 657.9 L 1011.1 658.6 L 1026.4 668.1 Z" class="w"/>
<ellipse cx="1030.7" cy="661.2" rx="6.6" ry="8.1" transform="rotate(32 1030.7 661.2)" class="w"/>
<ellipse cx="1030.7" cy="661.2" rx="4.4" ry="5.5" transform="rotate(32 1030.7 661.2)" style="stroke-width:1.5;"/>
<ellipse cx="1030.7" cy="661.2" rx="2.0" ry="2.7" transform="rotate(32 1030.7 661.2)"/>
<path d="M 1035.7 650.2 L 1048.2 644.8 L 1054.5 650.2 L 1051.4 661.2 L 1038.9 668.2 M 1024.8 673.7 L 1038.9 678.4 L 1051.4 670.6 L 1051.4 661.2 M 1026.3 671.4 L 1038.1 675.3"/>
<path d="M 1075.1 702.6 L 1087.6 693.2 L 1093.9 699.5 L 1084.5 710.4 M 1087.6 693.2 L 1084.5 686.9 L 1073.6 694.8 L 1075.1 702.6 M 1068.9 655.6 L 1078.2 686.9 M 1073.6 649.4 L 1081.4 671.3 L 1084.5 686.9"/>
<path d="M 1087.6 710.4 C 1089.2 712.8 1094.7 718.0 1097.0 724.5 C 1099.4 731.0 1100.7 739.6 1101.7 749.5 C 1102.8 759.5 1103.0 778.2 1103.3 784.0" style="stroke-width:1.5;"/>
<path d="M 1085.3 713.6 C 1086.7 715.9 1091.7 721.6 1093.9 727.6 C 1096.1 733.6 1097.5 740.7 1098.6 749.5 C 1099.6 758.4 1099.9 775.6 1100.2 780.8" class="th"/>
<path d="M 1101.7 787.1 L 1118.9 777.7 L 1123.6 780.8 L 1112.7 794.9 M 1109.5 785.9 L 1117.4 781.8 L 1119.2 785.5 L 1112.1 790.2 Z M 1118.9 777.7 L 1129.9 763.6"/>
<ellipse cx="1113.5" cy="765.2" rx="4.7" ry="5.9" transform="rotate(-20 1113.5 765.2)"/>
<ellipse cx="1113.5" cy="765.2" rx="2.5" ry="3.3" transform="rotate(-20 1113.5 765.2)"/>
<ellipse cx="1113.5" cy="765.2" rx="6.3" ry="7.8" transform="rotate(-20 1113.5 765.2)"/>
<path d="M 1128.3 760.5 C 1128.8 758.9 1129.4 753.2 1131.5 751.1 C 1133.5 749.0 1139.3 748.5 1140.8 748.0"/>
<path d="M 1125.2 758.9 C 1125.8 757.1 1126.3 750.5 1128.6 748.0 C 1131.0 745.5 1137.5 744.7 1139.3 744.1"/>
<path d="M 1122.1 756.6 C 1122.7 754.6 1123.4 747.6 1126.0 744.9 C 1128.6 742.1 1135.8 740.9 1137.7 740.2"/>
<path d="M 1109.5 758.9 L 1145.5 727.6 M 1115.0 755.8 L 1147.1 730.8"/>
<path d="M 1133.6 695.0 L 1121.1 688.4 L 1120.3 688.0 L 1119.4 687.8 L 1118.4 687.8 L 1117.4 687.9 L 1116.4 688.3 L 1115.5 688.7 L 1114.6 689.4 L 1113.8 690.1 L 1113.1 691.0 L 1112.5 691.9 L 1112.1 693.0 L 1111.7 694.0 L 1111.5 695.1 L 1111.5 696.2 L 1111.7 697.3 L 1111.9 698.2 L 1112.4 699.1 L 1112.9 699.9 L 1113.6 700.6 L 1114.4 701.1 L 1126.8 707.7 Z" class="w"/>
<ellipse cx="1130.2" cy="701.3" rx="5.9" ry="7.2" transform="rotate(28 1130.2 701.3)" class="w"/>
<ellipse cx="1130.2" cy="701.3" rx="3.8" ry="4.7" transform="rotate(28 1130.2 701.3)" style="stroke-width:1.5;"/>
<ellipse cx="1130.2" cy="701.3" rx="1.7" ry="2.2" transform="rotate(28 1130.2 701.3)"/>
<ellipse cx="1110.3" cy="690.9" rx="1.6" ry="1.9" transform="rotate(-20 1110.3 690.9)"/>
<ellipse cx="1128.3" cy="711.2" rx="1.6" ry="1.9" transform="rotate(-20 1128.3 711.2)"/>
</g>
<path d="M 1103.2 378.8 L 1107.6 402.6 M 1112.6 430.1 L 1121.3 456.4" class="ds"/>
<path d="M 1098.2 391.9 L 1106.3 386.9 L 1115.1 389.4 L 1106.9 396.3 Z M 1098.2 391.9 L 1099.0 394.4 L 1107.2 398.2 L 1106.9 396.3 M 1107.2 398.2 L 1115.3 391.3 L 1115.1 389.4" class="w"/>
<ellipse cx="1111.9" cy="410.7" rx="5.3" ry="2.3" transform="rotate(10 1111.9 410.7)" style="stroke-width:1.4;"/>
<ellipse cx="1112.8" cy="416.0" rx="5.3" ry="2.3" transform="rotate(10 1112.8 416.0)" style="stroke-width:1.4;"/>
<ellipse cx="1113.7" cy="421.2" rx="5.3" ry="2.3" transform="rotate(10 1113.7 421.2)" style="stroke-width:1.4;"/>
<ellipse cx="1114.6" cy="426.5" rx="5.3" ry="2.3" transform="rotate(10 1114.6 426.5)" style="stroke-width:1.4;"/>
<path d="M 1110.1 430.7 L 1119.5 427.0 L 1123.8 438.2 L 1113.8 443.3 Z M 1110.1 430.7 L 1111.3 428.2 L 1120.1 425.1 L 1119.5 427.0 M 1120.1 425.1 L 1124.5 436.4 L 1123.8 438.2" class="w"/>
<path d="M 1110.7 463.9 L 1122.6 457.7 L 1133.8 458.9 L 1138.9 478.9 L 1126.3 488.3 L 1116.3 483.9 Z" class="w" style="stroke-width:1.2;"/>
<path d="M 1110.7 463.9 L 1121.3 466.4 L 1126.3 488.3 M 1121.3 466.4 L 1133.8 458.9 M 1123.2 468.9 L 1125.7 482.7"/>
<path d="M 1116.3 462.4 L 1123.8 458.5 L 1128.8 460.2 L 1121.3 464.2 Z" style="fill:#777;"/>
<ellipse cx="1118.2" cy="479.9" rx="2.5" ry="1.8" transform="rotate(0 1118.2 479.9)"/>
<path d="M 1128.8 492.7 L 1130.1 496.5" class="ds"/>
<path d="M 1139.3 490.3 C 1134.1 488.1 1131.5 490.7 1132.0 495.8 L 1131.0 538.9 M 1139.6 494.1 C 1137.5 492.7 1136.7 494.1 1136.9 497.5 L 1133.4 538.5"/>
<path d="M 1138.4 488.1 C 1138.9 485.5 1140.5 484.6 1142.2 485.1 L 1156.5 493.2 L 1155.1 499.8 L 1138.1 492.9 C 1136.3 491.9 1136.7 489.5 1138.4 488.1 Z" style="fill:#4a4a4a;"/>
<path d="M 1156.5 493.2 L 1159.9 495.3 C 1161.6 496.7 1161.1 500.1 1159.1 501.5 L 1155.1 499.8" class="w"/>
<ellipse cx="1160.1" cy="498.4" rx="1.2" ry="2.4" transform="rotate(-25 1160.1 498.4)"/>
<path d="M 1145.3 501.0 L 1147.5 512.2" class="ds"/>
<path d="M 1143.6 541.4 C 1138.4 539.7 1136.2 542.3 1136.7 547.5 L 1135.8 590.5 M 1144.1 545.4 C 1142.0 544.0 1141.3 545.7 1141.7 549.2 L 1138.2 588.8"/>
<path d="M 1143.1 538.0 C 1143.6 535.4 1145.1 534.6 1146.8 535.1 L 1161.1 543.2 L 1159.7 549.7 L 1142.7 542.8 C 1141.0 541.8 1141.3 539.4 1143.1 538.0 Z" style="fill:#4a4a4a;"/>
<path d="M 1161.1 543.2 L 1164.6 545.2 C 1166.3 546.6 1165.8 550.0 1163.7 551.4 L 1159.7 549.7" class="w"/>
<ellipse cx="1164.7" cy="548.3" rx="1.2" ry="2.4" transform="rotate(-25 1164.7 548.3)"/>
<path d="M 1110.0 554.4 L 1145.3 534.0" class="ds"/>
<path d="M 1110.0 611.5 L 1131.5 598.2 L 1127.2 578.8 L 1142.7 569.0" class="ds"/>
<path d="M 1146.2 566.4 L 1157.3 616.3" class="ds"/>
<path d="M 1139.3 585.3 L 1150.5 576.7 L 1161.6 580.2 L 1165.9 598.2 L 1152.2 607.7 L 1142.7 602.6 Z" class="w" style="stroke-width:1.2;"/>
<path d="M 1139.3 585.3 L 1151.3 588.8 L 1152.2 607.7 M 1151.3 588.8 L 1161.6 580.2"/>
<path d="M 1145.3 582.9 L 1151.3 579.0 L 1156.5 580.5 L 1150.5 585.0 Z" style="fill:#777;"/>
<ellipse cx="1143.6" cy="593.3" rx="2.1" ry="1.7" transform="rotate(0 1143.6 593.3)"/>
<path d="M 1153.0 624.9 L 1161.6 619.8 L 1165.1 622.3 L 1166.8 632.7 L 1159.1 637.8 L 1154.8 635.3 Z M 1153.0 624.9 L 1157.3 627.5 L 1159.1 637.8 M 1157.3 627.5 L 1165.1 622.3" class="w"/>
<ellipse cx="1163.4" cy="640.8" rx="4.8" ry="2.1" transform="rotate(10 1163.4 640.8)" style="stroke-width:1.4;"/>
<ellipse cx="1164.2" cy="644.9" rx="4.8" ry="2.1" transform="rotate(10 1164.2 644.9)" style="stroke-width:1.4;"/>
<ellipse cx="1165.1" cy="649.0" rx="4.8" ry="2.1" transform="rotate(10 1165.1 649.0)" style="stroke-width:1.4;"/>
<ellipse cx="1165.9" cy="653.2" rx="4.8" ry="2.1" transform="rotate(10 1165.9 653.2)" style="stroke-width:1.4;"/>
<path d="M 1167.7 659.4 L 1169.4 666.2" class="ds"/>
<path d="M 1162.5 672.3 L 1171.1 667.1 L 1178.9 669.7 L 1178.9 672.8 L 1171.1 677.4 L 1163.4 675.2 Z M 1162.5 672.3 L 1171.1 674.9 L 1178.9 669.7 M 1171.1 674.9 L 1171.1 677.4" class="w"/>
<path d="M1090.4 412.7 L1105.1 395.9" class="ld"/>
<path d="M1100.4 446.0 L1111.9 436.6" class="ld"/>
<path d="M1113.4 482.3 L1119.5 480.4" class="ld"/>
<path d="M1124.1 511.1 L1142.7 503.6" class="ld"/>
<path d="M1170.1 526.1 L1155.6 540.6" class="ld"/>
<path d="M1178.6 558.7 L1154.4 582.2" class="ld"/>
<path d="M1186.4 595.1 L1165.1 623.2" class="ld"/>
<path d="M1195.6 635.9 L1174.0 668.3" class="ld"/>
<path d="M1201.4 671.0 L1150.5 721.7" class="ld"/>
<path d="M 992.6 713.2 L 1023.3 691.3 L 1034.5 696.3 L 1038.3 707.5 L 1045.2 711.3 L 1058.3 745.1 L 1043.9 758.9 L 1027.6 768.9 L 1020.1 766.4 L 1015.1 761.4 L 1008.2 727.6 L 995.1 723.8 Z" class="w" style="stroke-width:1.3;"/>
<path d="M 992.6 713.2 L 1005.1 716.9 L 1008.2 727.6 M 1005.1 716.9 L 1034.5 696.3 M 1008.2 727.6 L 1038.3 707.5 M 1027.6 768.9 L 1023.3 762.6 L 1030.1 765.1 L 1043.9 758.9 M 1010.1 727.6 L 1016.4 760.1"/>
<path d="M 1007.6 718.8 L 1035.1 699.4 M 1013.9 715.0 L 1015.1 716.9 M 1027.6 705.0 L 1029.1 706.9" class="th"/>
<ellipse cx="1026.4" cy="745.1" rx="6.3" ry="7.8" transform="rotate(-20 1026.4 745.1)" class="w"/>
<path d="M 1023.3 738.2 L 1030.1 740.1 M 1026.4 752.6 L 1033.3 755.7"/>
<ellipse cx="1033.3" cy="747.6" rx="6.5" ry="8.0" transform="rotate(-20 1033.3 747.6)" class="w" style="stroke-width:1.4;"/>
<ellipse cx="1042.0" cy="717.8" rx="1.8" ry="2.0" transform="rotate(0 1042.0 717.8)"/>
<path d="M 960.7 738.8 L 976.3 726.3 L 983.2 724.4 L 995.1 727.6 L 1000.1 731.3 L 1005.1 742.6 L 1019.5 777.6 L 1002.6 791.4 L 991.3 786.4 L 981.3 756.4 L 976.3 745.1 L 971.3 746.3 L 962.5 742.6 Z" class="w" style="stroke-width:1.3;"/>
<path d="M 962.5 740.1 L 977.6 728.8 L 983.2 727.6 M 976.3 745.1 L 996.3 728.8 L 1000.1 731.3 M 976.3 745.1 C 981.3 742.6 990.1 746.3 995.1 753.2 L 1010.1 786.4 M 981.3 752.6 C 985.1 755.1 990.1 755.1 995.1 753.2 M 991.3 786.4 L 1002.6 788.9 L 1017.6 775.8 M 1002.6 788.9 L 1002.6 791.4"/>
<path d="M 977.6 726.3 L 978.8 723.8 L 982.6 722.8 L 983.2 724.4 M 990.1 726.3 L 992.6 723.2 L 998.8 725.1 L 1000.1 731.3 M 995.1 727.6 L 1005.1 723.8 L 1007.6 731.3 L 1005.1 742.6"/>
<path d="M 965.0 740.1 C 967.5 742.6 971.3 743.8 975.1 743.2" class="th"/>
<path d="M 1076.5 746.1 L 1080.6 748.0 L 1078.0 753.5 L 1074.0 751.6 Z" class="w"/>
<path d="M 1080.1 749.2 L 1086.9 752.3 L 1088.0 754.7 L 1085.4 755.5 L 1078.6 752.3" class="w"/>
<ellipse cx="1075.2" cy="748.8" rx="1.5" ry="3.0" transform="rotate(25 1075.2 748.8)" class="w"/>
<path d="M 1048.4 780.5 L 1063.0 859.8" class="ax"/>
<path d="M 1039.2 796.4 L 1044.5 838.7 M 1057.7 784.5 L 1062.2 828.6" style="stroke-width:1.3;"/>
<path d="M 1043.9 838.7 L 1066.9 826.8 L 1075.4 832.1 L 1074.9 845.3 L 1052.4 855.1 L 1045.8 851.9 Z M 1043.9 838.7 L 1051.1 841.9 L 1052.4 855.1 M 1051.1 841.9 L 1075.4 832.1" class="w"/>
<path d="M 1119.8 730.3 L 1151.6 791.1" class="ax"/>
<path d="M 1151.6 828.1 L 1143.6 849.3 L 1145.0 862.5 L 1151.6 868.3 L 1163.5 865.1 L 1168.0 859.8 L 1164.8 838.7 Z" class="w" style="stroke-width:1.2;"/>
<path d="M 1157.7 852.4 L 1161.9 852.4" style="stroke-width:2;"/>
<path d="M 1157.1 854.0 L 1160.0 856.9" style="stroke-width:2;"/>
<path d="M 1155.5 854.6 L 1155.5 858.8" style="stroke-width:2;"/>
<path d="M 1154.0 854.0 L 1151.1 856.9" style="stroke-width:2;"/>
<path d="M 1153.4 852.4 L 1149.2 852.4" style="stroke-width:2;"/>
<path d="M 1154.0 850.9 L 1151.1 847.9" style="stroke-width:2;"/>
<path d="M 1155.5 850.3 L 1155.5 846.1" style="stroke-width:2;"/>
<path d="M 1157.1 850.9 L 1160.0 847.9" style="stroke-width:2;"/>
<ellipse cx="1155.5" cy="803.8" rx="12.2" ry="4.5" transform="rotate(-27 1155.5 803.8)" class="w" style="stroke-width:1.4;"/>
<ellipse cx="1158.1" cy="808.9" rx="12.0" ry="4.5" transform="rotate(-27 1158.1 808.9)" class="w" style="stroke-width:1.4;"/>
<ellipse cx="1160.7" cy="814.1" rx="11.7" ry="4.5" transform="rotate(-27 1160.7 814.1)" class="w" style="stroke-width:1.4;"/>
<ellipse cx="1163.3" cy="819.2" rx="11.5" ry="4.5" transform="rotate(-27 1163.3 819.2)" class="w" style="stroke-width:1.4;"/>
<ellipse cx="1165.9" cy="824.4" rx="11.3" ry="4.5" transform="rotate(-27 1165.9 824.4)" class="w" style="stroke-width:1.4;"/>
<ellipse cx="1168.5" cy="829.6" rx="11.1" ry="4.5" transform="rotate(-27 1168.5 829.6)" class="w" style="stroke-width:1.4;"/>
<ellipse cx="1171.1" cy="834.7" rx="10.9" ry="4.5" transform="rotate(-27 1171.1 834.7)" class="w" style="stroke-width:1.4;"/>
<ellipse cx="1173.7" cy="839.9" rx="10.7" ry="4.5" transform="rotate(-27 1173.7 839.9)" class="w" style="stroke-width:1.4;"/>
<ellipse cx="1176.3" cy="845.0" rx="10.5" ry="4.5" transform="rotate(-27 1176.3 845.0)" class="w" style="stroke-width:1.4;"/>
<ellipse cx="1178.9" cy="850.2" rx="10.3" ry="4.5" transform="rotate(-27 1178.9 850.2)" class="w" style="stroke-width:1.4;"/>
<ellipse cx="1181.5" cy="855.3" rx="10.1" ry="4.5" transform="rotate(-27 1181.5 855.3)" class="w" style="stroke-width:1.4;"/>
<ellipse cx="1184.1" cy="860.5" rx="9.8" ry="4.5" transform="rotate(-27 1184.1 860.5)" class="w" style="stroke-width:1.4;"/>
<ellipse cx="1186.7" cy="865.7" rx="9.6" ry="4.5" transform="rotate(-27 1186.7 865.7)" class="w" style="stroke-width:1.4;"/>
<path d="M 1135.7 791.1 L 1151.6 779.2 L 1162.7 776.5 L 1168.0 781.8 L 1165.3 791.6 L 1154.8 799.5 L 1148.9 798.2 L 1135.7 795.6 Z M 1135.7 795.6 L 1137.0 799.0 L 1149.5 802.2 L 1155.5 803.0 L 1165.3 795.0 L 1165.3 791.6" class="w" style="stroke-width:1.2;"/>
<ellipse cx="1154.8" cy="787.1" rx="7.9" ry="5.3" transform="rotate(-35 1154.8 787.1)"/>
<ellipse cx="1187.3" cy="866.2" rx="7.9" ry="3.2" transform="rotate(-27 1187.3 866.2)" class="w" style="stroke-width:1.8;"/>
<path d="M 1191.3 868.3 L 1202.4 884.2" class="ax"/>
<path d="M 1197.1 884.2 L 1202.4 882.3 L 1209.8 907.4 L 1204.5 909.6 Z" class="w"/>
<ellipse cx="1199.7" cy="883.4" rx="2.6" ry="1.3" transform="rotate(-15 1199.7 883.4)" class="w"/>
<path d="M 1196.0 893.7 L 1212.4 888.4 M 1197.1 897.4 L 1213.5 892.1"/>
<path d="M 1206.6 912.7 L 1215.1 910.1 L 1232.2 928.6 L 1234.1 937.9 L 1220.3 944.5 L 1216.4 936.5 Z" class="w"/>
<path d="M 1208.4 918.0 L 1219.0 914.3 M 1211.1 923.3 L 1223.0 918.6 M 1213.7 928.6 L 1227.0 923.3 M 1215.6 933.4 L 1230.9 928.6"/>
<ellipse cx="1211.1" cy="912.2" rx="4.5" ry="2.1" transform="rotate(-15 1211.1 912.2)" class="w"/>
<path d="M 1216.4 936.5 C 1215.1 947.1 1217.7 960.3 1225.6 968.3 L 1230.9 970.9 C 1244.1 970.9 1257.4 960.3 1260.0 949.8 C 1257.4 941.8 1252.1 937.9 1244.1 936.5 L 1234.1 937.9 L 1220.3 944.5 Z" class="w" style="stroke-width:1.2;"/>
<path d="M 1237.5 969.6 L 1240.2 985.5 L 1244.1 986.3 L 1243.6 968.3 Z M 1254.2 956.4 L 1256.3 968.3 L 1260.0 968.3 L 1258.7 953.7 Z" class="w"/>
<path d="M 1225.6 968.3 L 1227.0 973.6 L 1230.9 975.7 L 1230.9 970.9 M 1233.6 947.1 L 1241.5 944.5 L 1246.8 955.1 L 1238.9 960.3 Z M 1244.1 936.5 C 1246.8 944.5 1248.1 949.8 1246.8 955.1"/>
<path d="M 1182.0 746.1 L 1270.6 779.2 M 1168.8 759.3 L 1253.4 793.2" class="ax"/>
<path d="M 1187.3 768.6 L 1201.8 750.1 L 1208.4 748.2 L 1214.0 754.1 L 1212.4 759.9 L 1197.9 775.2 L 1191.3 776.3 Z M 1187.3 768.6 L 1188.6 772.6 L 1191.3 776.3" class="w" style="stroke-width:1.2;"/>
<ellipse cx="1207.6" cy="755.4" rx="2.4" ry="1.9" transform="rotate(-30 1207.6 755.4)"/>
<ellipse cx="1193.9" cy="771.2" rx="2.4" ry="1.9" transform="rotate(-30 1193.9 771.2)"/>
<path d="M 1267.9 780.0 L 1262.4 777.9 L 1265.0 770.5 L 1270.6 772.6 Z" class="w"/>
<path d="M 1262.9 776.5 L 1253.7 773.1 L 1251.8 769.9 L 1255.3 768.6 L 1264.5 772.0" class="w"/>
<ellipse cx="1269.3" cy="776.3" rx="2.0" ry="4.0" transform="rotate(200 1269.3 776.3)" class="w"/>
<path d="M 1250.0 793.7 L 1244.4 791.6 L 1247.1 784.2 L 1252.6 786.3 Z" class="w"/>
<path d="M 1244.9 790.3 L 1235.7 786.8 L 1233.8 783.7 L 1237.3 782.4 L 1246.5 785.8" class="w"/>
<ellipse cx="1251.3" cy="790.0" rx="2.0" ry="4.0" transform="rotate(200 1251.3 790.0)" class="w"/>
<path d="M1051.1 712.9 L1042.9 725.4" class="ld"/>
<path d="M1076.2 767.8 L1080.2 756.6" class="ld"/>
<path d="M1085.4 811.9 L1063.3 833.7" class="ld"/>
<path d="M1126.8 847.1 L1151.6 831.3" class="ld"/>
<path d="M1172.1 915.8 L1209.8 914.3" class="ld"/>
<path d="M1219.2 718.9 L1204.5 749.3" class="ld"/>
<path d="M1238.7 750.9 L1256.0 771.2" class="ld"/>
<path d="M1239.4 750.3 L1263.2 773.1" class="ld"/>
<g class="hv">
<path d="M 719.9 734.7 C 711.5 740.6 717.1 733.8 715.7 733.5 C 714.3 733.1 712.9 732.9 711.5 732.8 C 710.1 732.7 708.8 732.7 707.5 732.8 C 706.2 732.9 704.9 733.1 703.6 733.4 C 702.3 733.6 701.1 734.0 699.9 734.5 C 698.7 735.0 697.5 735.6 696.4 736.2 C 695.3 736.9 694.2 737.7 693.2 738.5 C 692.2 739.4 691.2 740.3 690.3 741.3 C 689.4 742.4 688.5 743.5 687.6 744.7 C 686.8 745.9 686.1 747.2 685.3 748.5 C 684.6 749.9 684.0 751.3 683.4 752.8 C 682.8 754.3 682.3 755.9 681.8 757.5 C 681.3 759.2 680.9 760.9 680.6 762.6 C 680.3 764.4 680.0 766.2 679.8 768.0 C 679.6 769.9 679.4 771.8 679.4 773.8 C 679.3 775.7 679.3 777.7 679.3 779.7 C 679.4 781.7 679.5 783.8 679.7 785.8 C 679.9 787.9 680.2 790.0 680.5 792.1 C 680.8 794.2 681.2 796.3 681.7 798.4 C 682.1 800.6 682.6 802.7 683.2 804.8 C 683.8 806.9 684.4 809.0 685.1 811.1 C 685.8 813.2 686.6 815.3 687.4 817.4 C 688.2 819.5 689.1 821.5 690.0 823.5 C 690.9 825.5 691.9 827.5 692.9 829.4 C 693.9 831.3 695.0 833.2 696.1 835.1 C 697.2 836.9 698.4 838.7 699.5 840.5 C 700.7 842.2 702.0 843.9 703.2 845.5 C 704.5 847.1 705.8 848.7 707.1 850.2 C 708.4 851.6 709.7 853.0 711.1 854.4 C 712.5 855.7 713.8 857.0 715.2 858.1 C 716.6 859.3 718.1 860.4 719.5 861.4 C 720.9 862.4 722.3 863.3 723.8 864.2 C 725.2 865.0 726.7 865.7 728.1 866.4 C 729.5 867.0 731.0 867.6 732.4 868.0 C 733.8 868.5 735.2 868.8 736.6 869.1 C 738.0 869.3 739.4 869.5 740.7 869.5 C 742.1 869.6 743.4 869.6 744.7 869.4 C 746.0 869.3 747.3 869.1 748.6 868.7 C 749.8 868.4 751.0 868.0 752.2 867.4 C 753.4 866.9 754.5 866.3 755.6 865.6 C 756.7 864.8 757.8 864.0 758.8 863.1 C 759.8 862.2 760.7 861.2 761.6 860.2 C 762.5 859.1 763.4 857.9 764.2 856.7 C 765.0 855.5 763.7 854.4 766.4 852.7 C 769.1 851.1 771.6 851.2 780.2 846.8 C 788.8 842.3 811.9 830.1 818.0 826.1 C 824.2 822.2 815.3 822.5 816.9 823.1 C 818.5 823.7 823.9 829.5 827.5 829.9 C 831.0 830.2 832.6 827.9 838.0 825.2 C 843.5 822.5 856.0 815.0 860.2 813.6 C 864.4 812.2 861.3 810.6 863.4 816.8 C 865.5 822.9 871.8 843.9 872.9 850.6 C 873.9 857.3 868.8 855.1 869.7 856.9 C 870.6 858.7 875.7 858.0 878.2 861.1 C 880.6 864.3 882.7 870.6 884.5 875.9 C 886.3 881.2 888.7 885.8 888.7 892.8 C 888.7 899.9 885.0 911.8 884.5 918.2 C 884.0 924.5 884.5 927.1 885.6 930.8 C 886.6 934.5 888.6 938.4 890.8 940.4 C 893.1 942.3 896.1 943.3 899.3 942.5 C 902.5 941.6 905.3 938.8 909.9 935.1 C 914.4 931.4 921.8 925.6 926.8 920.3 C 931.7 915.0 936.3 908.3 939.4 903.4 C 942.6 898.5 944.5 894.6 945.8 890.7 C 947.0 886.8 947.9 884.4 946.8 880.1 C 945.8 875.9 941.4 869.2 939.4 865.4 C 937.5 861.5 937.7 863.6 935.2 856.9 C 932.7 850.2 928.2 835.4 924.6 825.2 C 921.1 815.0 918.0 805.1 914.1 795.6 C 910.2 786.1 906.0 776.6 901.4 768.2 C 896.8 759.7 891.9 752.7 886.6 744.9 C 881.3 737.2 873.9 728.0 869.7 721.7 C 865.5 715.4 863.4 711.5 861.3 706.9 C 859.2 702.3 857.6 699.5 857.0 694.2 C 856.4 689.0 858.4 679.9 857.6 675.5 C 856.9 671.1 854.5 669.2 852.5 667.7 C 850.5 666.3 851.3 665.5 845.6 666.9 C 839.8 668.3 827.2 673.2 818.0 676.4 C 808.9 679.5 799.1 682.2 790.5 685.8 C 781.9 689.4 778.2 689.7 766.4 697.9 C 754.6 706.0 728.4 728.7 719.9 734.7 Z" class="w" style="stroke-width:1.4;"/>
<ellipse cx="723.7" cy="807.5" rx="30.6" ry="53.7" transform="rotate(-18 723.7 807.5)"/>
<ellipse cx="724.7" cy="804.3" rx="36.2" ry="62.8" transform="rotate(-19.5 724.7 804.3)"/>
<path d="M 719.9 734.7 L 723.3 736.0 L 726.7 737.7 L 730.1 739.8 L 733.4 742.2 L 736.8 744.8 L 740.0 747.9 L 743.2 751.1 L 746.3 754.7 L 749.3 758.5 L 752.1 762.5 L 754.8 766.8 L 757.4 771.2 L 759.8 775.8 L 762.0 780.5 L 764.0 785.3 L 765.8 790.2 L 767.3 795.2 L 768.7 800.2 L 769.8 805.2 L 770.7 810.2 L 771.4 815.2 L 771.8 820.0 L 771.9 824.8 L 771.8 829.4 L 771.5 833.9 L 770.9 838.2 L 770.0 842.4 L 769.0 846.2 L 767.7 849.9 L 766.1 853.3" style="stroke-width:1.3;"/>
<path d="M 737.9 735.7 L 740.8 737.7 L 743.7 740.0 L 746.6 742.5 L 749.4 745.2 L 752.2 748.1 L 754.8 751.3 L 757.4 754.6 L 759.9 758.1 L 762.3 761.8 L 764.6 765.6 L 766.8 769.5 L 768.8 773.5 L 770.7 777.7 L 772.4 781.9 L 773.9 786.2 L 775.3 790.6 L 776.6 794.9 L 777.6 799.3 L 778.5 803.7 L 779.2 808.0 L 779.7 812.3 L 780.0 816.6 L 780.2 820.7 L 780.1 824.8 L 779.9 828.7 L 779.4 832.6 L 778.8 836.2 L 778.0 839.8 L 777.0 843.1 L 775.9 846.3"/>
<path d="M 697.8 760.3 L 697.4 756.5 L 697.5 752.7 L 698.1 749.0 L 699.2 745.5 L 700.8 742.2 L 702.9 739.2 L 705.4 736.6 L 708.3 734.4 L 711.5 732.7 L 714.8 731.5 L 718.3 730.9 L 721.9 730.8 L 725.5 731.3 L 729.0 732.4 L 732.4 733.9 L 735.5 736.0 L 738.3 738.5 L 740.7 741.4 L 742.7 744.7 L 744.3 748.2"/>
<path d="M 682.1 751.2 L 688.9 749.5 L 702.7 738.3 M 680.3 766.7 L 688.1 770.2 L 692.4 763.3 M 692.4 740.9 L 695.8 746.1"/>
<ellipse cx="686.4" cy="757.3" rx="1.4" ry="1.7" transform="rotate(0 686.4 757.3)"/>
<ellipse cx="730.6" cy="860.5" rx="1.5" ry="1.9" transform="rotate(0 730.6 860.5)"/>
<path d="M 730.3 761.6 L 750.9 753.8 L 763.0 751.2 L 766.4 759.8 L 752.6 765.0 L 738.9 773.6 Z M 738.9 773.6 L 740.6 780.5 L 752.6 773.6 L 752.6 765.0"/>
<ellipse cx="739.7" cy="775.7" rx="1.2" ry="1.4" transform="rotate(0 739.7 775.7)"/>
<path d="M 707.0 808.0 L 750.9 783.9 M 709.6 814.9 L 742.3 797.7 M 702.7 832.1 L 735.4 814.9 M 713.0 845.9 L 752.6 823.5 M 735.4 814.9 L 754.4 842.5 M 738.9 828.7 L 750.9 849.4 M 699.3 770.2 L 706.2 759.8 M 694.1 814.9 L 709.6 808.0 L 713.0 845.9"/>
<path d="M 738.9 716.8 L 773.3 694.4 L 788.8 693.6 M 726.8 728.9 L 766.4 703.0"/>
<path d="M 756.9 726.3 L 812.0 692.7 C 816.3 691.0 819.8 692.7 821.5 694.4 L 837.8 710.8 L 770.7 744.7 Z" style="stroke-width:1.2;"/>
<path d="M 750.9 757.3 L 766.4 749.5 L 842.1 709.9 M 811.2 737.5 L 855.9 711.6 M 771.6 835.6 L 818.0 814.9"/>
<path d="M 815.5 685.8 L 817.9 684.8 L 826.1 692.4 L 823.7 693.7 Z" style="stroke-width:1;"/>
<path d="M 819.2 684.1 L 821.7 683.1 L 829.9 690.6 L 827.5 692.0 Z" style="stroke-width:1;"/>
<path d="M 823.0 682.4 L 825.4 681.3 L 833.7 688.9 L 831.3 690.3 Z" style="stroke-width:1;"/>
<path d="M 826.8 680.7 L 829.2 679.6 L 837.5 687.2 L 835.1 688.6 Z" style="stroke-width:1;"/>
<path d="M 830.6 678.9 L 833.0 677.9 L 841.3 685.5 L 838.9 686.9 Z" style="stroke-width:1;"/>
<path d="M 834.4 677.2 L 836.8 676.2 L 845.1 683.8 L 842.7 685.1 Z" style="stroke-width:1;"/>
<path d="M 838.2 675.5 L 840.6 674.5 L 848.9 682.0 L 846.4 683.4 Z" style="stroke-width:1;"/>
<path d="M 842.0 673.8 L 844.4 672.7 L 852.6 680.3 L 850.2 681.7 Z" style="stroke-width:1;"/>
<path d="M 845.6 666.9 C 852.5 675.5 855.1 685.8 855.9 699.6 M 835.3 709.9 C 842.1 706.5 850.8 699.6 857.6 694.4"/>
<path d="M 828.4 725.4 L 855.1 711.6 L 862.8 716.8 L 864.5 722.0 L 840.4 737.5 L 833.5 735.7 Z"/>
<ellipse cx="835.3" cy="724.0" rx="1.5" ry="1.9" transform="rotate(0 835.3 724.0)" style="fill:#666;"/>
<ellipse cx="843.0" cy="719.9" rx="1.5" ry="1.9" transform="rotate(0 843.0 719.9)" style="fill:#666;"/>
<ellipse cx="850.8" cy="715.9" rx="1.5" ry="1.9" transform="rotate(0 850.8 715.9)" style="fill:#666;"/>
<ellipse cx="858.5" cy="711.6" rx="1.5" ry="1.9" transform="rotate(0 858.5 711.6)" style="fill:#666;"/>
<ellipse cx="843.5" cy="728.9" rx="1.5" ry="1.9" transform="rotate(0 843.5 728.9)" style="fill:#666;"/>
<ellipse cx="851.6" cy="724.7" rx="1.5" ry="1.9" transform="rotate(0 851.6 724.7)" style="fill:#666;"/>
<ellipse cx="859.4" cy="720.3" rx="1.5" ry="1.9" transform="rotate(0 859.4 720.3)" style="fill:#666;"/>
<ellipse cx="856.8" cy="703.9" rx="1.5" ry="1.9" transform="rotate(0 856.8 703.9)" style="fill:#666;"/>
<ellipse cx="861.1" cy="709.1" rx="1.5" ry="1.9" transform="rotate(0 861.1 709.1)" style="fill:#666;"/>
<path d="M 782.8 756.4 L 790.5 749.9 L 835.3 732.3 L 840.4 742.6 L 832.7 753.8 L 798.2 772.2 L 790.5 770.2 Z" style="stroke-width:1.2;"/>
<path d="M 786.2 757.3 L 791.4 753.0 L 833.5 736.6 M 790.5 770.2 L 793.9 765.0 L 831.8 746.1" class="th"/>
<path d="M 775.9 797.7 L 781.9 791.2 L 828.4 763.6 L 834.9 766.7 L 837.0 778.8 L 787.4 811.5 L 778.8 811.8 Z" style="stroke-width:1.3;"/>
<path d="M 778.8 798.6 L 783.6 793.4 L 827.5 767.1 L 832.2 769.3 L 833.5 777.9 L 787.1 808.4 L 781.0 808.4 Z" class="th"/>
<path d="M 780.2 802.0 L 785.0 796.9 L 789.6 801.2 L 785.0 806.7 Z" style="fill:#555;"/>
<text transform="translate(794.3 804.9) rotate(-32) skewX(-18) scale(1.25 1)" style="font-family:'Liberation Sans',sans-serif;font-weight:bold;font-size:13.5px;fill:#fff;stroke:#222;stroke-width:0.9;letter-spacing:0.5px">ЗУБР</text>
<path d="M 800.8 806.3 L 838.7 783.1 L 840.8 787.4 L 803.4 810.1 Z"/>
<path d="M 844.7 814.1 L 859.4 803.7 C 862.8 802.0 865.4 805.5 862.5 808.0 L 848.2 818.0 C 844.2 820.1 842.1 816.3 844.7 814.1 Z" style="stroke-width:1.2;"/>
<path d="M 847.3 815.3 L 860.2 806.3" class="th"/>
<path d="M 840.4 753.8 L 861.1 740.9 L 869.7 746.1 L 876.6 770.2 L 857.6 783.9 L 852.5 780.5 Z"/>
<path d="M 848.2 756.4 L 867.1 745.7 L 868.8 749.5 L 849.9 760.5 Z" style="stroke-width:1.2;"/>
<path d="M 850.8 757.3 L 866.2 748.7" style="stroke-width:1.6;"/>
<path d="M 851.3 764.7 L 870.2 754.0 L 871.9 757.8 L 853.0 768.8 Z" style="stroke-width:1.2;"/>
<path d="M 853.8 765.5 L 869.3 756.9" style="stroke-width:1.6;"/>
<path d="M 854.4 772.9 L 873.3 762.3 L 875.0 766.0 L 856.1 777.1 Z" style="stroke-width:1.2;"/>
<path d="M 856.9 773.8 L 872.4 765.2" style="stroke-width:1.6;"/>
<path d="M 861.1 740.9 L 864.5 735.7 L 868.0 737.5 M 845.6 747.8 L 849.0 753.0"/>
<path d="M 857.0 694.2 C 858.1 697.7 860.2 708.0 863.4 715.4 C 866.5 722.7 872.5 732.3 876.1 738.6 C 879.6 744.9 882.4 748.1 884.5 753.4 C 886.6 758.7 889.4 765.4 888.7 770.3 C 888.0 775.2 881.3 778.7 880.3 783.0 C 879.2 787.2 880.3 791.8 882.4 795.6 C 884.5 799.5 889.4 804.1 893.0 806.2 C 896.5 808.3 901.4 805.8 903.5 808.3 C 905.6 810.8 903.9 816.1 905.6 821.0 C 907.4 825.9 910.6 831.5 914.1 837.9 C 917.6 844.2 923.2 854.4 926.8 859.0 C 930.3 863.6 933.8 864.3 935.2 865.4" style="stroke-width:1.2;"/>
<ellipse cx="902.5" cy="768.6" rx="1.7" ry="2.1" transform="rotate(0 902.5 768.6)" style="fill:#666;"/>
<ellipse cx="910.9" cy="805.1" rx="1.7" ry="2.1" transform="rotate(0 910.9 805.1)" style="fill:#666;"/>
<ellipse cx="936.3" cy="866.4" rx="1.7" ry="2.1" transform="rotate(0 936.3 866.4)" style="fill:#666;"/>
<ellipse cx="929.3" cy="845.3" rx="1.7" ry="2.1" transform="rotate(0 929.3 845.3)" style="fill:#666;"/>
<ellipse cx="915.1" cy="818.9" rx="1.7" ry="2.1" transform="rotate(0 915.1 818.9)" style="fill:#666;"/>
<ellipse cx="897.6" cy="778.7" rx="1.7" ry="2.1" transform="rotate(0 897.6 778.7)" style="fill:#666;"/>
<ellipse cx="891.3" cy="751.3" rx="1.7" ry="2.1" transform="rotate(0 891.3 751.3)" style="fill:#666;"/>
<ellipse cx="883.5" cy="742.8" rx="1.7" ry="2.1" transform="rotate(0 883.5 742.8)" style="fill:#666;"/>
<ellipse cx="876.1" cy="732.3" rx="1.7" ry="2.1" transform="rotate(0 876.1 732.3)" style="fill:#666;"/>
<ellipse cx="869.7" cy="723.8" rx="1.7" ry="2.1" transform="rotate(0 869.7 723.8)" style="fill:#666;"/>
<ellipse cx="893.0" cy="816.8" rx="1.7" ry="2.1" transform="rotate(0 893.0 816.8)" style="fill:#666;"/>
<ellipse cx="885.6" cy="774.5" rx="1.7" ry="2.1" transform="rotate(0 885.6 774.5)" style="fill:#666;"/>
<ellipse cx="895.1" cy="771.3" rx="1.7" ry="2.1" transform="rotate(0 895.1 771.3)" style="fill:#666;"/>
<ellipse cx="901.4" cy="783.0" rx="1.7" ry="2.1" transform="rotate(0 901.4 783.0)" style="fill:#666;"/>
<ellipse cx="891.9" cy="786.1" rx="1.7" ry="2.1" transform="rotate(0 891.9 786.1)" style="fill:#666;"/>
<ellipse cx="886.6" cy="795.6" rx="1.7" ry="2.1" transform="rotate(0 886.6 795.6)" style="fill:#666;"/>
<ellipse cx="899.3" cy="795.6" rx="1.7" ry="2.1" transform="rotate(0 899.3 795.6)" style="fill:#666;"/>
<ellipse cx="905.6" cy="804.1" rx="1.7" ry="2.1" transform="rotate(0 905.6 804.1)" style="fill:#666;"/>
<ellipse cx="912.0" cy="816.8" rx="1.7" ry="2.1" transform="rotate(0 912.0 816.8)" style="fill:#666;"/>
<ellipse cx="918.3" cy="827.3" rx="1.7" ry="2.1" transform="rotate(0 918.3 827.3)" style="fill:#666;"/>
<ellipse cx="914.1" cy="829.4" rx="1.7" ry="2.1" transform="rotate(0 914.1 829.4)" style="fill:#666;"/>
<ellipse cx="923.6" cy="837.9" rx="1.7" ry="2.1" transform="rotate(0 923.6 837.9)" style="fill:#666;"/>
<ellipse cx="920.4" cy="841.1" rx="1.7" ry="2.1" transform="rotate(0 920.4 841.1)" style="fill:#666;"/>
<ellipse cx="926.8" cy="850.6" rx="1.7" ry="2.1" transform="rotate(0 926.8 850.6)" style="fill:#666;"/>
<ellipse cx="932.0" cy="859.0" rx="1.7" ry="2.1" transform="rotate(0 932.0 859.0)" style="fill:#666;"/>
<ellipse cx="905.6" cy="789.3" rx="1.7" ry="2.1" transform="rotate(0 905.6 789.3)" style="fill:#666;"/>
<ellipse cx="896.1" cy="761.8" rx="1.7" ry="2.1" transform="rotate(0 896.1 761.8)" style="fill:#666;"/>
<ellipse cx="890.8" cy="759.7" rx="1.7" ry="2.1" transform="rotate(0 890.8 759.7)" style="fill:#666;"/>
<path d="M 873.9 818.9 L 893.0 809.4 L 901.8 814.6 L 903.5 827.3 L 884.5 841.3 L 880.3 837.9 Z" style="stroke-width:1.3;"/>
<path d="M 873.9 818.9 L 881.3 824.2 L 884.5 841.3 M 881.3 824.2 L 893.0 816.8"/>
<ellipse cx="893.4" cy="824.2" rx="6.3" ry="8.5" transform="rotate(20 893.4 824.2)" class="w" style="stroke-width:1.5;"/>
<ellipse cx="894.2" cy="823.7" rx="4.6" ry="6.5" transform="rotate(20 894.2 823.7)"/>
<path d="M 860.2 813.6 C 863.4 814.6 865.5 821.0 872.9 850.6 M 863.4 816.8 C 867.6 833.7 873.9 846.3 880.3 859.0" class="th"/>
<path d="M 878.2 861.1 C 882.0 860.8 894.7 861.1 901.4 859.0 C 908.1 856.9 913.7 850.7 918.3 848.5 C 922.9 846.2 927.1 845.8 928.9 845.3"/>
<path d="M 879.2 863.7 C 883.1 863.3 895.8 863.6 902.5 861.5 C 909.2 859.5 914.8 853.9 919.4 851.6 C 923.9 849.4 928.2 848.6 929.9 848.0" class="th"/>
<path d="M 888.7 892.8 C 892.6 891.8 903.9 890.4 912.0 886.5 C 920.1 882.6 931.7 870.6 937.3 869.6 C 943.0 868.5 944.4 878.4 945.8 880.1"/>
<path d="M 886.2 927.7 C 890.1 926.4 904.5 921.7 909.9 920.3 C 915.2 918.9 916.9 919.4 918.3 919.2"/>
<path d="M 887.7 930.8 C 891.4 929.6 905.1 924.9 909.9 923.5 C 914.6 922.0 915.1 922.6 916.2 922.4" class="th"/>
<path d="M 915.1 922.4 L 941.1 886.5 L 945.8 891.1 L 919.4 930.8 Z" style="stroke-width:1.2;"/>
<path d="M 918.3 923.5 L 942.0 890.3 M 920.4 926.2 L 943.7 892.8" style="stroke-width:1.8;"/>
<path d="M 890.8 940.4 L 893.0 935.1 L 909.9 928.7 M 899.3 942.5 L 901.4 937.2"/>
</g>
<path d="M764.9 650.0 L790.2 713.1" class="ld"/>
<path d="M 354.6 843.2 L 354.6 1025.4" class="ds"/>
<path d="M 366.9 936.3 L 370.0 933.8 L 376.9 937.6 L 382.6 940.3 L 391.3 934.4 L 403.8 932.8 L 411.3 929.4 L 445.1 962.6 L 450.2 995.1 L 441.4 1020.2 L 432.6 1032.7 L 430.1 1037.7 L 425.1 1045.9 L 402.6 1023.9 L 391.3 1025.2 L 380.0 1002.7 L 381.3 986.4 L 376.3 985.1 L 376.9 971.4 L 373.2 970.1 L 368.8 945.1 Z" class="w" style="stroke-width:1.3;"/>
<path d="M 366.9 936.3 L 371.9 941.3 L 376.9 937.6 M 371.9 941.3 L 375.0 967.6 L 378.8 968.9 L 378.5 982.6 L 383.6 984.1 L 382.8 1000.2 L 392.6 1020.2 L 403.8 1019.6 L 425.1 1040.2 L 425.1 1045.9 M 425.1 1040.2 L 431.4 1031.5 M 370.0 933.8 L 375.0 940.1 M 392.6 1020.2 L 402.6 1023.9"/>
<path d="M 382.8 941.3 L 396.7 932.9 L 400.4 931.4 L 404.6 931.0 L 409.2 931.6 L 414.1 933.2 L 419.2 935.9 L 424.3 939.5 L 429.4 944.0 L 434.3 949.2 L 438.9 955.0 L 443.0 961.3 L 446.6 968.0 L 449.6 974.8 L 451.9 981.5 L 453.5 988.1 L 454.3 994.3 L 454.2 1000.1 L 453.4 1005.2 L 451.8 1009.6 L 449.4 1013.0 L 446.4 1015.6 L 432.4 1023.9 Z" class="w" style="stroke-width:1.3;"/>
<ellipse cx="407.6" cy="982.6" rx="25.0" ry="48.2" transform="rotate(-31 407.6 982.6)" class="w" style="stroke-width:1.3;"/>
<ellipse cx="408.6" cy="983.1" rx="21.0" ry="40.7" transform="rotate(-31 408.6 983.1)"/>
<ellipse cx="411.3" cy="984.6" rx="15.6" ry="30.3" transform="rotate(-31 411.3 984.6)" style="stroke-width:1.4;"/>
<path d="M 428.8 1009.5 L 426.7 1010.0 L 424.3 1010.0 L 421.7 1009.5 L 419.0 1008.5 L 416.2 1007.0 L 413.3 1005.1 L 410.5 1002.7 L 407.8 1000.0 L 405.1 996.9 L 402.7 993.5 L 400.5 990.0 L 398.6 986.3 L 396.9 982.6 L 395.6 978.8 L 394.7 975.2 L 394.1 971.6 L 393.9 968.3 L 394.1 965.3 L 394.7 962.6 L 395.7 960.3 L 397.0 958.4 L 398.7 957.0 L 400.6 956.1 L 402.9 955.7"/>
<path d="M 426.6 1007.2 L 424.6 1006.9 L 422.4 1006.2 L 420.2 1005.2 L 417.9 1003.8 L 415.7 1002.2 L 413.4 1000.3 L 411.2 998.1 L 409.1 995.7 L 407.1 993.2 L 405.2 990.4 L 403.5 987.5 L 401.9 984.6 L 400.6 981.6 L 399.5 978.6 L 398.6 975.6 L 398.0 972.7 L 397.6 970.0 L 397.5 967.4 L 397.6 964.9 L 398.0 962.7 L 398.7 960.8 L 399.6 959.1 L 400.8 957.7 L 402.1 956.7" class="th"/>
<path d="M 412.3 962.6 L 420.1 958.8 L 426.4 965.1 L 425.1 975.1 M 420.1 958.8 L 422.0 970.1 M 426.4 965.1 L 430.1 995.1 L 432.6 1010.2 M 431.4 980.1 L 440.4 977.4 L 442.0 990.1 L 434.1 992.9 Z M 430.1 1013.3 L 437.6 1010.2 L 442.0 1020.2"/>
<path d="M 413.2 931.3 L 415.1 933.8 M 422.6 936.3 L 423.9 939.4" class="th"/>
<path d="M 453.6 923.8 L 499.6 895.4 L 502.8 894.6 L 501.2 898.3 L 455.2 927.5" class="w"/>
<path d="M 460.5 922.2 L 492.2 902.0" class="th"/>
<path d="M 446.7 924.9 L 449.9 922.2 L 453.6 923.3 L 454.7 927.5 L 451.5 930.7 L 447.7 929.1 Z" class="w"/>
<ellipse cx="449.9" cy="927.0" rx="1.6" ry="2.4" transform="rotate(-31 449.9 927.0)"/>
<path d="M 466.9 985.0 L 512.9 955.7 L 516.1 954.9 L 514.5 958.7 L 468.5 988.7" class="w"/>
<path d="M 473.8 983.4 L 505.5 962.4" class="th"/>
<path d="M 460.0 986.1 L 463.2 983.4 L 466.9 984.5 L 468.0 988.7 L 464.8 991.9 L 461.0 990.3 Z" class="w"/>
<ellipse cx="463.2" cy="988.2" rx="1.6" ry="2.4" transform="rotate(-31 463.2 988.2)"/>
<ellipse cx="520.4" cy="882.6" rx="2.1" ry="3.5" transform="rotate(-31 520.4 882.6)" style="stroke-width:2;"/>
<ellipse cx="533.7" cy="943.8" rx="2.1" ry="3.5" transform="rotate(-31 533.7 943.8)" style="stroke-width:2;"/>
<path d="M 546.2 860.0 L 596.8 829.6 L 599.4 828.6 L 602.4 828.4 L 605.7 829.1 L 609.3 830.5 L 613.1 832.7 L 617.0 835.7 L 620.8 839.2 L 624.5 843.4 L 628.0 848.0 L 631.3 853.0 L 634.1 858.1 L 636.6 863.4 L 638.5 868.6 L 639.8 873.7 L 640.6 878.5 L 640.8 882.9 L 640.4 886.8 L 639.4 890.0 L 637.8 892.6 L 635.7 894.4 L 585.1 924.8 Z" class="w" style="stroke-width:1.3;"/>
<ellipse cx="565.6" cy="892.4" rx="17.6" ry="37.8" transform="rotate(-31 565.6 892.4)" class="w" style="stroke-width:1.3;"/>
<path d="M 554.6 859.3 L 605.2 828.9" style="stroke-width:1.6;"/>
<path d="M 562.6 863.2 L 613.2 832.8" style="stroke-width:1;"/>
<path d="M 571.0 870.6 L 621.7 840.1" style="stroke-width:1.4;"/>
<path d="M 579.3 881.1 L 629.9 850.7" style="stroke-width:1;"/>
<path d="M 585.5 892.9 L 636.2 862.4" style="stroke-width:1.4;"/>
<path d="M 589.6 906.0 L 640.2 875.5" style="stroke-width:1;"/>
<path d="M 589.9 916.6 L 640.5 886.2" style="stroke-width:1.6;"/>
<ellipse cx="565.6" cy="892.4" rx="14.9" ry="32.5" transform="rotate(-31 565.6 892.4)"/>
<ellipse cx="567.2" cy="891.6" rx="10.6" ry="25.3" transform="rotate(-31 567.2 891.6)" style="stroke-width:1.4;"/>
<path d="M 582.1 912.1 L 580.4 912.2 L 578.7 911.8 L 576.7 911.1 L 574.7 910.1 L 572.7 908.7 L 570.6 906.9 L 568.4 904.9 L 566.4 902.6 L 564.4 900.1 L 562.5 897.4 L 560.8 894.6 L 559.2 891.7 L 557.9 888.7 L 556.7 885.8 L 555.8 883.0 L 555.2 880.2 L 554.9 877.7 L 554.8 875.3 L 555.0 873.2 L 555.4 871.4 L 556.1 869.9 L 557.1 868.7 L 558.3 867.9 L 559.8 867.4"/>
<path d="M 582.3 908.1 L 580.8 907.7 L 579.3 907.1 L 577.8 906.2 L 576.1 905.1 L 574.5 903.7 L 572.8 902.1 L 571.2 900.4 L 569.6 898.5 L 568.1 896.4 L 566.6 894.2 L 565.2 892.0 L 564.0 889.7 L 562.9 887.3 L 562.0 885.0 L 561.2 882.7 L 560.6 880.6 L 560.1 878.5 L 559.9 876.5 L 559.9 874.7 L 560.0 873.1 L 560.4 871.6 L 560.9 870.5 L 561.6 869.5 L 562.5 868.8"/>
<path d="M 531.5 887.9 L 540.9 883.6 L 543.5 892.4 L 534.2 896.9 Z" class="w"/>
<path d="M 578.3 908.4 L 577.1 908.4 L 575.7 908.1 L 574.3 907.5 L 572.8 906.6 L 571.2 905.4 L 569.6 904.0 L 568.0 902.4 L 566.4 900.5 L 564.9 898.5 L 563.4 896.4 L 562.0 894.2 L 560.8 891.9 L 559.7 889.6 L 558.8 887.3 L 558.0 885.1 L 557.5 883.0 L 557.1 881.0 L 557.0 879.2 L 557.1 877.6 L 557.3 876.2 L 557.8 875.0 L 558.5 874.1 L 559.4 873.6 L 560.4 873.3"/>
<path d="M 579.0 904.6 L 577.9 904.3 L 576.8 903.8 L 575.6 903.0 L 574.4 902.2 L 573.2 901.1 L 571.9 899.8 L 570.7 898.5 L 569.4 897.0 L 568.3 895.4 L 567.1 893.7 L 566.1 891.9 L 565.1 890.1 L 564.2 888.3 L 563.5 886.5 L 562.9 884.8 L 562.4 883.1 L 562.0 881.5 L 561.8 880.0 L 561.7 878.6 L 561.8 877.4 L 562.0 876.3 L 562.4 875.4 L 562.9 874.7 L 563.5 874.2"/>
<path d="M 550.2 877.8 L 556.8 881.8 L 556.0 899.1 M 562.1 911.0 L 571.5 917.7 L 580.8 913.7 M 564.0 869.8 L 571.5 877.8 M 574.1 885.8 L 576.8 901.7"/>
<path d="M 552.8 869.8 L 560.8 877.8 L 558.2 891.1 M 566.1 907.1 L 579.4 915.0 L 582.1 904.4 M 568.8 896.4 L 574.1 912.4 M 550.2 856.5 L 555.5 864.5"/>
<path d="M 607.4 829.9 L 611.4 825.9 L 615.9 832.6 L 612.7 837.4 M 630.8 859.2 L 635.3 856.5 L 637.2 864.5 L 633.4 868.5"/>
<path d="M 601.7 835.6 L 603.7 835.9 L 605.7 836.5 L 607.8 837.4 L 609.9 838.6 L 612.1 840.0 L 614.3 841.7 L 616.4 843.6 L 618.5 845.7 L 620.6 848.1 L 622.6 850.6 L 624.5 853.2 L 626.2 855.9 L 627.8 858.7 L 629.2 861.6 L 630.5 864.5 L 631.6 867.4 L 632.5 870.3 L 633.2 873.1 L 633.6 875.8 L 633.8 878.4 L 633.9 880.9 L 633.7 883.1 L 633.3 885.2 L 632.6 887.0"/>
<path d="M 606.7 841.4 L 608.0 841.7 L 609.4 842.2 L 610.9 842.9 L 612.5 843.8 L 614.0 845.0 L 615.6 846.3 L 617.1 847.8 L 618.7 849.4 L 620.2 851.1 L 621.6 853.0 L 623.0 855.0 L 624.3 857.1 L 625.5 859.2 L 626.6 861.3 L 627.6 863.5 L 628.4 865.6 L 629.1 867.8 L 629.7 869.8 L 630.1 871.8 L 630.4 873.7 L 630.5 875.5 L 630.4 877.1 L 630.3 878.6 L 629.9 879.9"/>
<ellipse cx="657.9" cy="833.9" rx="4.8" ry="10.1" transform="rotate(-31 657.9 833.9)" class="w" style="stroke-width:1.8;"/>
<ellipse cx="657.9" cy="833.9" rx="2.9" ry="6.9" transform="rotate(-31 657.9 833.9)"/>
<path d="M 354.6 1025.4 L 1130.0 547.0" class="ax"/>
<path d="M 442.4 931.0 L 544.9 869.3" class="ax"/>
<path d="M 458.4 990.9 L 574.1 920.4" class="ax"/>
<path d="M450.7 835.0 L473.0 912.9" class="ld"/>
<path d="M408.2 855.3 L405.2 935.0" class="ld"/>
<path d="M498.0 802.5 L519.6 879.1" class="ld"/>
<path d="M535.2 978.7 L534.2 948.3" class="ld"/>
<path d="M489.4 1011.2 L489.0 977.6" class="ld"/>
<path d="M552.6 765.9 L583.4 856.5" class="ld"/>
<path d="M611.8 729.9 L654.5 825.1" class="ld"/>
<path d="M579.4 638.3 L580.5 605.8" class="ld"/>
<path d="M 995.9 515.0 L 999.6 516.3 L 997.9 521.5 L 994.1 520.1 Z" class="w"/>
<path d="M 999.3 517.4 L 1005.7 519.8 L 1006.7 521.8 L 1004.6 522.7 L 998.3 520.5" class="w"/>
<ellipse cx="995.0" cy="517.5" rx="1.3" ry="2.7" transform="rotate(20 995.0 517.5)" class="w"/>
<path d="M 950.6 531.3 L 954.4 532.7 L 952.6 537.9 L 948.9 536.5 Z" class="w"/>
<path d="M 954.0 533.7 L 960.4 536.1 L 961.4 538.2 L 959.4 539.1 L 953.0 536.8" class="w"/>
<ellipse cx="949.7" cy="533.9" rx="1.3" ry="2.7" transform="rotate(20 949.7 533.9)" class="w"/>
<path d="M 960.9 563.2 L 964.7 564.5 L 963.0 569.7 L 959.2 568.3 Z" class="w"/>
<path d="M 964.4 565.6 L 970.7 568.0 L 971.8 570.0 L 969.7 570.9 L 963.3 568.7" class="w"/>
<ellipse cx="960.0" cy="565.7" rx="1.3" ry="2.7" transform="rotate(20 960.0 565.7)" class="w"/>
<path d="M 917.0 614.8 L 920.8 616.2 L 919.1 621.3 L 915.3 620.0 Z" class="w"/>
<path d="M 920.5 617.2 L 926.8 619.6 L 927.9 621.7 L 925.8 622.6 L 919.4 620.3" class="w"/>
<ellipse cx="916.2" cy="617.4" rx="1.3" ry="2.7" transform="rotate(20 916.2 617.4)" class="w"/>
<path d="M 968.7 616.9 L 972.4 618.2 L 970.7 623.4 L 966.9 622.0 Z" class="w"/>
<path d="M 972.1 619.3 L 978.5 621.7 L 979.5 623.8 L 977.4 624.6 L 971.1 622.4" class="w"/>
<ellipse cx="967.8" cy="619.5" rx="1.3" ry="2.7" transform="rotate(20 967.8 619.5)" class="w"/>
<path d="M 1004.8 521.3 L 1022.9 529.2 M 962.3 539.6 L 990.2 550.3 M 972.6 570.9 L 987.1 576.4 M 928.2 622.9 L 1017.7 659.6 M 979.8 625.6 L 1000.5 634.6" class="ds"/>
<path d="M 1060.8 586.4 L 1102.1 563.2" class="ds"/>
<path d="M914.5 533.6 L992.8 519.3" class="ld"/>
<path d="M914.7 535.1 L948.0 535.1" class="ld"/>
<path d="M913.6 539.2 L958.3 564.0" class="ld"/>
<path d="M907.1 543.5 L915.3 614.8" class="ld"/>
<path d="M911.2 542.0 L966.1 617.4" class="ld"/>
<path d="M 937.7 680.2 L 951.4 666.4 L 980.8 677.1 L 981.2 683.3 L 965.2 698.3 L 938.3 687.7 Z" class="w" style="stroke-width:1.2;"/>
<path d="M 937.7 680.2 L 964.6 690.2 L 965.2 698.3 M 964.6 690.2 L 980.8 677.1 M 940.2 683.3 L 963.9 692.7"/>
<ellipse cx="974.0" cy="685.8" rx="2.8" ry="3.8" transform="rotate(30 974.0 685.8)"/>
<ellipse cx="974.6" cy="685.4" rx="1.3" ry="1.8" transform="rotate(30 974.6 685.4)"/>
<path d="M852.3 594.9 L946.4 672.7" class="ld"/>
<circle cx="355.9" cy="321.3" r="10.8" class="lc"/><text transform="translate(355.9 325.4) scale(0.78 1)" class="lt">39</text>
<circle cx="323.5" cy="338.8" r="10.8" class="lc"/><text transform="translate(323.5 342.9) scale(0.78 1)" class="lt">40</text>
<circle cx="279.0" cy="362.4" r="10.8" class="lc"/><text transform="translate(279.0 366.5) scale(0.78 1)" class="lt">41</text>
<circle cx="202.6" cy="413.3" r="10.8" class="lc"/><text transform="translate(202.6 417.4) scale(0.78 1)" class="lt">42</text>
<circle cx="83.1" cy="478.8" r="10.8" class="lc"/><text transform="translate(83.1 482.9) scale(0.78 1)" class="lt">44</text>
<circle cx="40.8" cy="503.8" r="10.8" class="lc"/><text transform="translate(40.8 507.9) scale(0.78 1)" class="lt">45</text>
<circle cx="154.0" cy="439.5" r="10.8" class="lc"/><text transform="translate(154.0 443.6) scale(0.78 1)" class="lt">43</text>
<circle cx="271.3" cy="617.8" r="10.8" class="lc"/><text transform="translate(271.3 621.9) scale(0.78 1)" class="lt">38</text>
<circle cx="330.1" cy="584.5" r="10.8" class="lc"/><text transform="translate(330.1 588.6) scale(0.78 1)" class="lt">37</text>
<circle cx="365.7" cy="565.9" r="10.8" class="lc"/><text transform="translate(365.7 570.0) scale(0.78 1)" class="lt">36</text>
<circle cx="412.8" cy="542.2" r="10.8" class="lc"/><text transform="translate(412.8 546.3) scale(0.78 1)" class="lt">35</text>
<circle cx="445.3" cy="527.6" r="10.8" class="lc"/><text transform="translate(445.3 531.7) scale(0.78 1)" class="lt">34</text>
<circle cx="465.3" cy="511.4" r="10.8" class="lc"/><text transform="translate(465.3 515.5) scale(0.78 1)" class="lt">33</text>
<circle cx="494.1" cy="493.8" r="10.8" class="lc"/><text transform="translate(494.1 497.9) scale(0.78 1)" class="lt">32</text>
<circle cx="536.7" cy="470.0" r="10.8" class="lc"/><text transform="translate(536.7 474.1) scale(0.78 1)" class="lt">16</text>
<circle cx="524.9" cy="676.6" r="10.8" class="lc"/><text transform="translate(524.9 680.7) scale(0.78 1)" class="lt">23</text>
<circle cx="577.8" cy="438.6" r="10.8" class="lc"/><text transform="translate(577.8 442.7) scale(0.78 1)" class="lt">31</text>
<circle cx="537.2" cy="470.4" r="10.8" class="lc"/><text transform="translate(537.2 474.5) scale(0.78 1)" class="lt">16</text>
<circle cx="635.4" cy="413.8" r="10.8" class="lc"/><text transform="translate(635.4 417.9) scale(0.78 1)" class="lt">30</text>
<circle cx="667.6" cy="402.4" r="10.8" class="lc"/><text transform="translate(667.6 406.5) scale(0.78 1)" class="lt">29</text>
<circle cx="700.9" cy="387.1" r="10.8" class="lc"/><text transform="translate(700.9 391.2) scale(0.78 1)" class="lt">28</text>
<circle cx="729.4" cy="376.2" r="10.8" class="lc"/><text transform="translate(729.4 380.3) scale(0.78 1)" class="lt">27</text>
<circle cx="1016.0" cy="392.2" r="10.8" class="lc"/><text transform="translate(1016.0 396.3) scale(0.78 1)" class="lt">19</text>
<circle cx="944.5" cy="435.4" r="10.8" class="lc"/><text transform="translate(944.5 439.5) scale(0.78 1)" class="lt">20</text>
<circle cx="894.0" cy="460.9" r="10.8" class="lc"/><text transform="translate(894.0 465.0) scale(0.78 1)" class="lt">21</text>
<circle cx="845.2" cy="312.0" r="10.8" class="lc"/><text transform="translate(845.2 316.1) scale(0.78 1)" class="lt">25</text>
<circle cx="807.4" cy="330.2" r="10.8" class="lc"/><text transform="translate(807.4 334.3) scale(0.78 1)" class="lt">26</text>
<circle cx="904.4" cy="276.0" r="10.8" class="lc"/><text transform="translate(904.4 280.1) scale(0.78 1)" class="lt">24</text>
<circle cx="728.8" cy="376.3" r="10.8" class="lc"/><text transform="translate(728.8 380.4) scale(0.78 1)" class="lt">27</text>
<circle cx="814.4" cy="525.3" r="10.8" class="lc"/><text transform="translate(814.4 529.4) scale(0.78 1)" class="lt">22</text>
<circle cx="1085.0" cy="418.8" r="8.2" class="lc"/><text transform="translate(1085.0 422.9) scale(0.78 1)" class="lt">8</text>
<circle cx="1093.8" cy="451.4" r="8.5" class="lc"/><text transform="translate(1093.8 455.5) scale(0.78 1)" class="lt">9</text>
<circle cx="1103.8" cy="485.2" r="10" class="lc"/><text transform="translate(1103.8 489.3) scale(0.78 1)" class="lt">10</text>
<circle cx="1114.3" cy="515.1" r="10.6" class="lc"/><text transform="translate(1114.3 519.2) scale(0.78 1)" class="lt">11</text>
<circle cx="1177.1" cy="519.1" r="9.9" class="lc"/><text transform="translate(1177.1 523.2) scale(0.78 1)" class="lt">11</text>
<circle cx="1185.7" cy="551.8" r="9.9" class="lc"/><text transform="translate(1185.7 555.9) scale(0.78 1)" class="lt">10</text>
<circle cx="1191.4" cy="588.4" r="8.3" class="lc"/><text transform="translate(1191.4 592.5) scale(0.78 1)" class="lt">9</text>
<circle cx="1200.0" cy="629.2" r="8" class="lc"/><text transform="translate(1200.0 633.3) scale(0.78 1)" class="lt">8</text>
<circle cx="1207.0" cy="665.4" r="8" class="lc"/><text transform="translate(1207.0 669.5) scale(0.78 1)" class="lt">7</text>
<circle cx="1055.8" cy="705.6" r="8.6" class="lc"/><text transform="translate(1055.8 709.7) scale(0.78 1)" class="lt">4</text>
<circle cx="1073.3" cy="775.8" r="8.5" class="lc"/><text transform="translate(1073.3 779.9) scale(0.78 1)" class="lt">5</text>
<circle cx="1091.5" cy="805.8" r="8.6" class="lc"/><text transform="translate(1091.5 809.9) scale(0.78 1)" class="lt">3</text>
<circle cx="1119.3" cy="851.9" r="8.9" class="lc"/><text transform="translate(1119.3 856.0) scale(0.78 1)" class="lt">2</text>
<circle cx="1163.0" cy="916.2" r="9.2" class="lc"/><text transform="translate(1163.0 920.3) scale(0.78 1)" class="lt">1</text>
<circle cx="1223.0" cy="711.2" r="8.6" class="lc"/><text transform="translate(1223.0 715.3) scale(0.78 1)" class="lt">6</text>
<circle cx="1233.6" cy="744.8" r="8" class="lc"/><text transform="translate(1233.6 748.9) scale(0.78 1)" class="lt">5</text>
<circle cx="760.9" cy="640.0" r="10.8" class="lc"/><text transform="translate(760.9 644.1) scale(0.78 1)" class="lt">13</text>
<circle cx="447.7" cy="824.6" r="10.8" class="lc"/><text transform="translate(447.7 828.7) scale(0.78 1)" class="lt">17</text>
<circle cx="408.6" cy="844.5" r="10.8" class="lc"/><text transform="translate(408.6 848.6) scale(0.78 1)" class="lt">18</text>
<circle cx="495.1" cy="792.1" r="10.8" class="lc"/><text transform="translate(495.1 796.2) scale(0.78 1)" class="lt">16</text>
<circle cx="535.5" cy="989.5" r="10.8" class="lc"/><text transform="translate(535.5 993.6) scale(0.78 1)" class="lt">16</text>
<circle cx="489.5" cy="1022.0" r="10.8" class="lc"/><text transform="translate(489.5 1026.1) scale(0.78 1)" class="lt">17</text>
<circle cx="549.1" cy="755.7" r="10.8" class="lc"/><text transform="translate(549.1 759.8) scale(0.78 1)" class="lt">15</text>
<circle cx="607.4" cy="720.0" r="10.8" class="lc"/><text transform="translate(607.4 724.1) scale(0.78 1)" class="lt">14</text>
<circle cx="579.0" cy="649.1" r="10.8" class="lc"/><text transform="translate(579.0 653.2) scale(0.78 1)" class="lt">16</text>
<circle cx="906.2" cy="535.1" r="8.5" class="lc"/><text transform="translate(906.2 539.2) scale(0.78 1)" class="lt">5</text>
<circle cx="845.0" cy="588.8" r="9.5" class="lc"/><text transform="translate(845.0 592.9) scale(0.78 1)" class="lt">12</text>
</svg></body></html>
